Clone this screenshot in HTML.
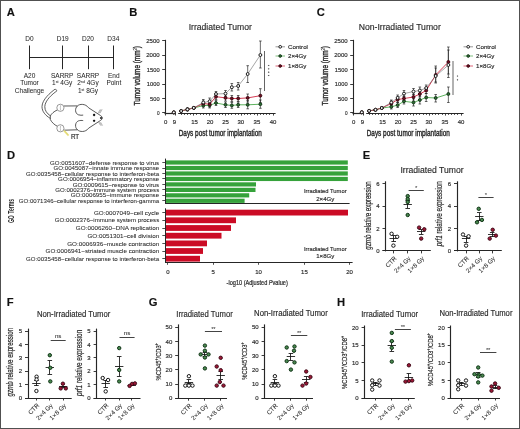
<!DOCTYPE html>
<html><head><meta charset="utf-8"><title>Figure</title>
<style>
html,body{margin:0;padding:0;background:#fff;}
body{width:520px;height:429px;overflow:hidden;}
svg{display:block;font-family:"Liberation Sans", sans-serif;}
text:not([stroke]){stroke:#2a2a2a;stroke-width:0.16px;}

</style></head>
<body>
<div style="width:520px;height:429px;will-change:transform">
<svg width="520" height="429" viewBox="0 0 520 429" font-family='"Liberation Sans", sans-serif' fill="#2a2a2a">
<rect x="0" y="0" width="520" height="429" fill="#fff"/>
<text x="6.70" y="15.70" font-size="11.2" font-weight="bold" fill="#111">A</text>
<text x="129.20" y="15.80" font-size="11.2" font-weight="bold" fill="#111">B</text>
<text x="316.70" y="15.90" font-size="11.2" font-weight="bold" fill="#111">C</text>
<text x="6.90" y="158.80" font-size="11.2" font-weight="bold" fill="#111">D</text>
<text x="362.70" y="158.80" font-size="11.2" font-weight="bold" fill="#111">E</text>
<text x="6.70" y="305.80" font-size="11.2" font-weight="bold" fill="#111">F</text>
<text x="148.80" y="305.60" font-size="11.2" font-weight="bold" fill="#111">G</text>
<text x="336.90" y="305.70" font-size="11.2" font-weight="bold" fill="#111">H</text>
<line x1="29.50" y1="57.50" x2="113.30" y2="57.50" stroke="#262626" stroke-width="1.0" />
<line x1="29.50" y1="45.50" x2="29.50" y2="69.20" stroke="#262626" stroke-width="1.0" />
<line x1="62.50" y1="45.50" x2="62.50" y2="69.20" stroke="#262626" stroke-width="1.0" />
<line x1="88.50" y1="45.50" x2="88.50" y2="69.20" stroke="#262626" stroke-width="1.0" />
<line x1="113.50" y1="45.50" x2="113.50" y2="69.20" stroke="#262626" stroke-width="1.0" />
<text x="29.50" y="40.90" font-size="6.5" stroke="#2a2a2a" stroke-width="0.04" text-anchor="middle">D0</text>
<text x="62.70" y="40.90" font-size="6.5" stroke="#2a2a2a" stroke-width="0.04" text-anchor="middle">D19</text>
<text x="88.00" y="40.90" font-size="6.5" stroke="#2a2a2a" stroke-width="0.04" text-anchor="middle">D20</text>
<text x="113.30" y="40.90" font-size="6.5" stroke="#2a2a2a" stroke-width="0.04" text-anchor="middle">D34</text>
<text x="29.50" y="77.50" font-size="6.5" stroke="#2a2a2a" stroke-width="0.04" text-anchor="middle">A20</text>
<text x="29.50" y="85.20" font-size="6.5" stroke="#2a2a2a" stroke-width="0.04" text-anchor="middle">Tumor</text>
<text x="29.50" y="92.80" font-size="6.5" stroke="#2a2a2a" stroke-width="0.04" text-anchor="middle">Challenge</text>
<text x="62.20" y="77.50" font-size="6.5" stroke="#2a2a2a" stroke-width="0.04" text-anchor="middle">SARRP</text>
<text x="62.20" y="85.20" font-size="6.5" stroke="#2a2a2a" stroke-width="0.04" text-anchor="middle">1<tspan font-size="3.6" dy="-2.2">st</tspan><tspan dy="2.2"> </tspan>4Gy</text>
<text x="88.00" y="77.50" font-size="6.5" stroke="#2a2a2a" stroke-width="0.04" text-anchor="middle">SARRP</text>
<text x="88.00" y="85.20" font-size="6.5" stroke="#2a2a2a" stroke-width="0.04" text-anchor="middle">2<tspan font-size="3.6" dy="-2.2">nd</tspan><tspan dy="2.2"> </tspan>4Gy</text>
<text x="88.00" y="92.80" font-size="6.5" stroke="#2a2a2a" stroke-width="0.04" text-anchor="middle">1<tspan font-size="3.6" dy="-2.2">st</tspan><tspan dy="2.2"> </tspan>8Gy</text>
<text x="113.80" y="77.50" font-size="6.5" stroke="#2a2a2a" stroke-width="0.04" text-anchor="middle">End</text>
<text x="113.80" y="85.20" font-size="6.5" stroke="#2a2a2a" stroke-width="0.04" text-anchor="middle">Point</text>
<path d="M55.0,89.2 C50.5,92.5 42.2,99.5 42.0,106.5 C41.9,111.5 45.5,115.5 50.3,118.4" fill="none" stroke="#2a2a2a" stroke-width="0.75" />
<path d="M56.9,90.9 C52.5,94.0 45.0,100.3 44.8,106.6 C44.7,110.5 47.0,113.5 50.3,115.8" fill="none" stroke="#2a2a2a" stroke-width="0.75" />
<path d="M55.0,89.2 Q56.6,89.3 56.9,90.9" fill="none" stroke="#303030" stroke-width="0.65" />
<path d="M57.2,110.0 C54.0,111.5 51.5,113.5 50.3,116.0 L50.3,119.5 C51.8,122.5 54.5,124.8 57.2,126.2" fill="none" stroke="#303030" stroke-width="0.8" />
<path d="M64.0,106.0 L77.5,105.9" fill="none" stroke="#303030" stroke-width="0.8" />
<path d="M64.0,130.2 L77.5,129.8" fill="none" stroke="#303030" stroke-width="0.8" />
<path d="M77.5,105.9 C79.5,103.8 85.5,103.4 88.6,107.8 L100.6,115.6 Q104.2,118.0 100.6,120.4 L88.6,128.2 C85.5,132.6 79.5,132.0 77.5,129.8" fill="none" stroke="#303030" stroke-width="0.8" />
<path d="M77.5,105.9 C74.6,108.2 75.0,113.6 78.4,114.8 C80.0,115.4 82.0,115.3 83.2,115.1" fill="none" stroke="#303030" stroke-width="0.8" />
<path d="M77.5,129.8 C74.6,127.6 75.0,122.2 78.4,120.9 C80.0,120.3 82.0,120.4 83.2,120.6" fill="none" stroke="#303030" stroke-width="0.8" />
<circle cx="60.40" cy="107.80" r="3.6" fill="#fff" stroke="#555" stroke-width="0.6"/>
<circle cx="60.40" cy="128.30" r="3.6" fill="#fff" stroke="#555" stroke-width="0.6"/>
<path d="M60.6,105.2 Q60.0,107.8 60.6,110.4" fill="none" stroke="#666" stroke-width="0.4" />
<path d="M60.6,125.7 Q60.0,128.3 60.6,130.9" fill="none" stroke="#666" stroke-width="0.4" />
<circle cx="94.10" cy="115.00" r="1.15" fill="#111" stroke="#111" stroke-width="0.1"/>
<circle cx="94.10" cy="120.80" r="1.15" fill="#111" stroke="#111" stroke-width="0.1"/>
<circle cx="101.00" cy="117.90" r="1.0" fill="#222" stroke="#222" stroke-width="0.1"/>
<line x1="98.00" y1="113.20" x2="100.20" y2="109.40" stroke="#555" stroke-width="0.4" />
<line x1="98.60" y1="122.20" x2="100.60" y2="125.60" stroke="#555" stroke-width="0.4" />
<line x1="99.00" y1="113.20" x2="101.20" y2="109.40" stroke="#555" stroke-width="0.4" />
<line x1="99.60" y1="122.20" x2="101.60" y2="125.60" stroke="#555" stroke-width="0.4" />
<line x1="100.00" y1="113.20" x2="102.20" y2="109.40" stroke="#555" stroke-width="0.4" />
<line x1="100.60" y1="122.20" x2="102.60" y2="125.60" stroke="#555" stroke-width="0.4" />
<path d="M64.0,130.6 L68.6,135.6" fill="none" stroke="#ebe38a" stroke-width="1.8" />
<path d="M64.2,130.6 L68.2,135.0" fill="none" stroke="#d9cf55" stroke-width="0.6" />
<text x="70.90" y="138.50" font-size="6.3">RT</text>
<text x="220.25" y="30.10" font-size="9.5" text-anchor="middle" textLength="63.10" lengthAdjust="spacingAndGlyphs">Irradiated Tumor</text>
<line x1="165.50" y1="39.80" x2="165.50" y2="113.30" stroke="#262626" stroke-width="1.1" />
<line x1="162.20" y1="112.50" x2="165.00" y2="112.50" stroke="#262626" stroke-width="0.9" />
<text x="159.60" y="114.85" font-size="6.0" text-anchor="end" textLength="2.60" lengthAdjust="spacingAndGlyphs">0</text>
<line x1="162.20" y1="98.50" x2="165.00" y2="98.50" stroke="#262626" stroke-width="0.9" />
<text x="159.60" y="100.60" font-size="6.0" text-anchor="end" textLength="9.50" lengthAdjust="spacingAndGlyphs">500</text>
<line x1="162.20" y1="84.50" x2="165.00" y2="84.50" stroke="#262626" stroke-width="0.9" />
<text x="159.60" y="86.10" font-size="6.0" text-anchor="end" textLength="12.80" lengthAdjust="spacingAndGlyphs">1000</text>
<line x1="162.20" y1="69.50" x2="165.00" y2="69.50" stroke="#262626" stroke-width="0.9" />
<text x="159.60" y="71.60" font-size="6.0" text-anchor="end" textLength="12.80" lengthAdjust="spacingAndGlyphs">1500</text>
<line x1="162.20" y1="55.50" x2="165.00" y2="55.50" stroke="#262626" stroke-width="0.9" />
<text x="159.60" y="57.35" font-size="6.0" text-anchor="end" textLength="13.40" lengthAdjust="spacingAndGlyphs">2000</text>
<line x1="162.20" y1="40.50" x2="165.00" y2="40.50" stroke="#262626" stroke-width="0.9" />
<text x="159.60" y="42.85" font-size="6.0" text-anchor="end" textLength="13.40" lengthAdjust="spacingAndGlyphs">2500</text>
<line x1="164.50" y1="113.50" x2="175.60" y2="113.50" stroke="#262626" stroke-width="1.2" />
<line x1="178.20" y1="113.50" x2="275.60" y2="113.50" stroke="#262626" stroke-width="1.1" />
<line x1="165.50" y1="113.30" x2="165.50" y2="115.50" stroke="#262626" stroke-width="0.9" />
<line x1="175.50" y1="113.30" x2="175.50" y2="115.50" stroke="#262626" stroke-width="0.9" />
<line x1="181.50" y1="113.30" x2="181.50" y2="114.90" stroke="#262626" stroke-width="0.85" />
<line x1="184.50" y1="113.30" x2="184.50" y2="114.90" stroke="#262626" stroke-width="0.85" />
<line x1="187.50" y1="113.30" x2="187.50" y2="114.90" stroke="#262626" stroke-width="0.85" />
<line x1="190.50" y1="113.30" x2="190.50" y2="114.90" stroke="#262626" stroke-width="0.85" />
<line x1="193.50" y1="113.30" x2="193.50" y2="115.60" stroke="#262626" stroke-width="0.85" />
<line x1="196.50" y1="113.30" x2="196.50" y2="114.90" stroke="#262626" stroke-width="0.85" />
<line x1="200.50" y1="113.30" x2="200.50" y2="114.90" stroke="#262626" stroke-width="0.85" />
<line x1="203.50" y1="113.30" x2="203.50" y2="114.90" stroke="#262626" stroke-width="0.85" />
<line x1="206.50" y1="113.30" x2="206.50" y2="114.90" stroke="#262626" stroke-width="0.85" />
<line x1="209.50" y1="113.30" x2="209.50" y2="115.60" stroke="#262626" stroke-width="0.85" />
<line x1="212.50" y1="113.30" x2="212.50" y2="114.90" stroke="#262626" stroke-width="0.85" />
<line x1="215.50" y1="113.30" x2="215.50" y2="114.90" stroke="#262626" stroke-width="0.85" />
<line x1="219.50" y1="113.30" x2="219.50" y2="114.90" stroke="#262626" stroke-width="0.85" />
<line x1="222.50" y1="113.30" x2="222.50" y2="114.90" stroke="#262626" stroke-width="0.85" />
<line x1="225.50" y1="113.30" x2="225.50" y2="115.60" stroke="#262626" stroke-width="0.85" />
<line x1="228.50" y1="113.30" x2="228.50" y2="114.90" stroke="#262626" stroke-width="0.85" />
<line x1="231.50" y1="113.30" x2="231.50" y2="114.90" stroke="#262626" stroke-width="0.85" />
<line x1="235.50" y1="113.30" x2="235.50" y2="114.90" stroke="#262626" stroke-width="0.85" />
<line x1="238.50" y1="113.30" x2="238.50" y2="114.90" stroke="#262626" stroke-width="0.85" />
<line x1="241.50" y1="113.30" x2="241.50" y2="115.60" stroke="#262626" stroke-width="0.85" />
<line x1="244.50" y1="113.30" x2="244.50" y2="114.90" stroke="#262626" stroke-width="0.85" />
<line x1="247.50" y1="113.30" x2="247.50" y2="114.90" stroke="#262626" stroke-width="0.85" />
<line x1="250.50" y1="113.30" x2="250.50" y2="114.90" stroke="#262626" stroke-width="0.85" />
<line x1="254.50" y1="113.30" x2="254.50" y2="114.90" stroke="#262626" stroke-width="0.85" />
<line x1="257.50" y1="113.30" x2="257.50" y2="115.60" stroke="#262626" stroke-width="0.85" />
<line x1="260.50" y1="113.30" x2="260.50" y2="114.90" stroke="#262626" stroke-width="0.85" />
<line x1="263.50" y1="113.30" x2="263.50" y2="114.90" stroke="#262626" stroke-width="0.85" />
<line x1="266.50" y1="113.30" x2="266.50" y2="114.90" stroke="#262626" stroke-width="0.85" />
<line x1="269.50" y1="113.30" x2="269.50" y2="114.90" stroke="#262626" stroke-width="0.85" />
<line x1="273.50" y1="113.30" x2="273.50" y2="115.60" stroke="#262626" stroke-width="0.85" />
<text x="165.75" y="124.30" font-size="6.0" text-anchor="middle">0</text>
<text x="174.50" y="124.30" font-size="6.0" text-anchor="middle">9</text>
<text x="194.50" y="124.30" font-size="6.0" text-anchor="middle">15</text>
<text x="210.00" y="124.30" font-size="6.0" text-anchor="middle">20</text>
<text x="225.50" y="124.30" font-size="6.0" text-anchor="middle">25</text>
<text x="240.80" y="124.30" font-size="6.0" text-anchor="middle">30</text>
<text x="256.90" y="124.30" font-size="6.0" text-anchor="middle">35</text>
<text x="273.00" y="124.30" font-size="6.0" text-anchor="middle">40</text>
<text x="178.70" y="136.4" font-size="8.3" textLength="83.2" lengthAdjust="spacingAndGlyphs" stroke="#2a2a2a" stroke-width="0.38">Days post tumor implantation</text>
<text x="140.40" y="105.5" font-size="8.4" textLength="59.3" lengthAdjust="spacingAndGlyphs" stroke="#2a2a2a" stroke-width="0.38" transform="rotate(-90 140.40 105.5)">Tumor volume (mm<tspan font-size="5.2" dy="-3.0" stroke-width="0.15">3</tspan><tspan dy="3.0">)</tspan></text>
<polyline points="181.12,111.00 187.46,109.40 193.80,107.90 203.31,105.60 209.65,105.30 215.99,103.00 225.50,104.80 231.84,105.40 238.18,104.80 247.69,104.80 260.37,104.20" fill="none" stroke="#4aa84b" stroke-width="0.9" stroke-linejoin="round"/>
<polyline points="181.12,111.00 187.46,109.40 193.80,107.90 203.31,103.60 209.65,104.20 215.99,96.70 225.50,97.90 231.84,98.50 238.18,98.50 247.69,97.90 260.37,95.70" fill="none" stroke="#cf2540" stroke-width="0.9" stroke-linejoin="round"/>
<polyline points="181.12,111.00 187.46,109.40 193.80,107.90 203.31,102.50 209.65,101.30 215.99,94.00 225.50,93.60 231.84,87.20 238.18,86.00 247.69,74.00 260.37,55.00" fill="none" stroke="#6a6a6a" stroke-width="0.6" stroke-linejoin="round"/>
<line x1="203.31" y1="103.00" x2="203.31" y2="108.00" stroke="#1a1a1a" stroke-width="0.65" />
<line x1="202.01" y1="103.00" x2="204.61" y2="103.00" stroke="#1a1a1a" stroke-width="0.65" />
<line x1="202.01" y1="108.00" x2="204.61" y2="108.00" stroke="#1a1a1a" stroke-width="0.65" />
<line x1="209.65" y1="103.00" x2="209.65" y2="108.00" stroke="#1a1a1a" stroke-width="0.65" />
<line x1="208.35" y1="103.00" x2="210.95" y2="103.00" stroke="#1a1a1a" stroke-width="0.65" />
<line x1="208.35" y1="108.00" x2="210.95" y2="108.00" stroke="#1a1a1a" stroke-width="0.65" />
<line x1="215.99" y1="100.50" x2="215.99" y2="105.50" stroke="#1a1a1a" stroke-width="0.65" />
<line x1="214.69" y1="100.50" x2="217.29" y2="100.50" stroke="#1a1a1a" stroke-width="0.65" />
<line x1="214.69" y1="105.50" x2="217.29" y2="105.50" stroke="#1a1a1a" stroke-width="0.65" />
<line x1="225.50" y1="102.00" x2="225.50" y2="107.50" stroke="#1a1a1a" stroke-width="0.65" />
<line x1="224.20" y1="102.00" x2="226.80" y2="102.00" stroke="#1a1a1a" stroke-width="0.65" />
<line x1="224.20" y1="107.50" x2="226.80" y2="107.50" stroke="#1a1a1a" stroke-width="0.65" />
<line x1="231.84" y1="102.50" x2="231.84" y2="108.30" stroke="#1a1a1a" stroke-width="0.65" />
<line x1="230.54" y1="102.50" x2="233.14" y2="102.50" stroke="#1a1a1a" stroke-width="0.65" />
<line x1="230.54" y1="108.30" x2="233.14" y2="108.30" stroke="#1a1a1a" stroke-width="0.65" />
<line x1="238.18" y1="102.00" x2="238.18" y2="107.50" stroke="#1a1a1a" stroke-width="0.65" />
<line x1="236.88" y1="102.00" x2="239.48" y2="102.00" stroke="#1a1a1a" stroke-width="0.65" />
<line x1="236.88" y1="107.50" x2="239.48" y2="107.50" stroke="#1a1a1a" stroke-width="0.65" />
<line x1="247.69" y1="100.50" x2="247.69" y2="108.80" stroke="#1a1a1a" stroke-width="0.65" />
<line x1="246.39" y1="100.50" x2="248.99" y2="100.50" stroke="#1a1a1a" stroke-width="0.65" />
<line x1="246.39" y1="108.80" x2="248.99" y2="108.80" stroke="#1a1a1a" stroke-width="0.65" />
<line x1="260.37" y1="100.00" x2="260.37" y2="108.30" stroke="#1a1a1a" stroke-width="0.65" />
<line x1="259.07" y1="100.00" x2="261.67" y2="100.00" stroke="#1a1a1a" stroke-width="0.65" />
<line x1="259.07" y1="108.30" x2="261.67" y2="108.30" stroke="#1a1a1a" stroke-width="0.65" />
<line x1="203.31" y1="101.00" x2="203.31" y2="106.00" stroke="#1a1a1a" stroke-width="0.65" />
<line x1="202.01" y1="101.00" x2="204.61" y2="101.00" stroke="#1a1a1a" stroke-width="0.65" />
<line x1="202.01" y1="106.00" x2="204.61" y2="106.00" stroke="#1a1a1a" stroke-width="0.65" />
<line x1="209.65" y1="101.50" x2="209.65" y2="107.00" stroke="#1a1a1a" stroke-width="0.65" />
<line x1="208.35" y1="101.50" x2="210.95" y2="101.50" stroke="#1a1a1a" stroke-width="0.65" />
<line x1="208.35" y1="107.00" x2="210.95" y2="107.00" stroke="#1a1a1a" stroke-width="0.65" />
<line x1="215.99" y1="94.00" x2="215.99" y2="99.50" stroke="#1a1a1a" stroke-width="0.65" />
<line x1="214.69" y1="94.00" x2="217.29" y2="94.00" stroke="#1a1a1a" stroke-width="0.65" />
<line x1="214.69" y1="99.50" x2="217.29" y2="99.50" stroke="#1a1a1a" stroke-width="0.65" />
<line x1="225.50" y1="95.00" x2="225.50" y2="101.00" stroke="#1a1a1a" stroke-width="0.65" />
<line x1="224.20" y1="95.00" x2="226.80" y2="95.00" stroke="#1a1a1a" stroke-width="0.65" />
<line x1="224.20" y1="101.00" x2="226.80" y2="101.00" stroke="#1a1a1a" stroke-width="0.65" />
<line x1="231.84" y1="95.50" x2="231.84" y2="101.50" stroke="#1a1a1a" stroke-width="0.65" />
<line x1="230.54" y1="95.50" x2="233.14" y2="95.50" stroke="#1a1a1a" stroke-width="0.65" />
<line x1="230.54" y1="101.50" x2="233.14" y2="101.50" stroke="#1a1a1a" stroke-width="0.65" />
<line x1="238.18" y1="95.50" x2="238.18" y2="101.50" stroke="#1a1a1a" stroke-width="0.65" />
<line x1="236.88" y1="95.50" x2="239.48" y2="95.50" stroke="#1a1a1a" stroke-width="0.65" />
<line x1="236.88" y1="101.50" x2="239.48" y2="101.50" stroke="#1a1a1a" stroke-width="0.65" />
<line x1="247.69" y1="94.00" x2="247.69" y2="102.00" stroke="#1a1a1a" stroke-width="0.65" />
<line x1="246.39" y1="94.00" x2="248.99" y2="94.00" stroke="#1a1a1a" stroke-width="0.65" />
<line x1="246.39" y1="102.00" x2="248.99" y2="102.00" stroke="#1a1a1a" stroke-width="0.65" />
<line x1="260.37" y1="88.70" x2="260.37" y2="102.50" stroke="#1a1a1a" stroke-width="0.65" />
<line x1="259.07" y1="88.70" x2="261.67" y2="88.70" stroke="#1a1a1a" stroke-width="0.65" />
<line x1="259.07" y1="102.50" x2="261.67" y2="102.50" stroke="#1a1a1a" stroke-width="0.65" />
<line x1="187.46" y1="108.00" x2="187.46" y2="111.00" stroke="#1a1a1a" stroke-width="0.65" />
<line x1="186.16" y1="108.00" x2="188.76" y2="108.00" stroke="#1a1a1a" stroke-width="0.65" />
<line x1="186.16" y1="111.00" x2="188.76" y2="111.00" stroke="#1a1a1a" stroke-width="0.65" />
<line x1="203.31" y1="99.50" x2="203.31" y2="105.50" stroke="#1a1a1a" stroke-width="0.65" />
<line x1="202.01" y1="99.50" x2="204.61" y2="99.50" stroke="#1a1a1a" stroke-width="0.65" />
<line x1="202.01" y1="105.50" x2="204.61" y2="105.50" stroke="#1a1a1a" stroke-width="0.65" />
<line x1="209.65" y1="98.00" x2="209.65" y2="104.50" stroke="#1a1a1a" stroke-width="0.65" />
<line x1="208.35" y1="98.00" x2="210.95" y2="98.00" stroke="#1a1a1a" stroke-width="0.65" />
<line x1="208.35" y1="104.50" x2="210.95" y2="104.50" stroke="#1a1a1a" stroke-width="0.65" />
<line x1="215.99" y1="91.50" x2="215.99" y2="96.50" stroke="#1a1a1a" stroke-width="0.65" />
<line x1="214.69" y1="91.50" x2="217.29" y2="91.50" stroke="#1a1a1a" stroke-width="0.65" />
<line x1="214.69" y1="96.50" x2="217.29" y2="96.50" stroke="#1a1a1a" stroke-width="0.65" />
<line x1="225.50" y1="90.50" x2="225.50" y2="96.50" stroke="#1a1a1a" stroke-width="0.65" />
<line x1="224.20" y1="90.50" x2="226.80" y2="90.50" stroke="#1a1a1a" stroke-width="0.65" />
<line x1="224.20" y1="96.50" x2="226.80" y2="96.50" stroke="#1a1a1a" stroke-width="0.65" />
<line x1="231.84" y1="83.50" x2="231.84" y2="91.00" stroke="#1a1a1a" stroke-width="0.65" />
<line x1="230.54" y1="83.50" x2="233.14" y2="83.50" stroke="#1a1a1a" stroke-width="0.65" />
<line x1="230.54" y1="91.00" x2="233.14" y2="91.00" stroke="#1a1a1a" stroke-width="0.65" />
<line x1="238.18" y1="82.50" x2="238.18" y2="90.00" stroke="#1a1a1a" stroke-width="0.65" />
<line x1="236.88" y1="82.50" x2="239.48" y2="82.50" stroke="#1a1a1a" stroke-width="0.65" />
<line x1="236.88" y1="90.00" x2="239.48" y2="90.00" stroke="#1a1a1a" stroke-width="0.65" />
<line x1="247.69" y1="65.70" x2="247.69" y2="82.50" stroke="#1a1a1a" stroke-width="0.65" />
<line x1="246.39" y1="65.70" x2="248.99" y2="65.70" stroke="#1a1a1a" stroke-width="0.65" />
<line x1="246.39" y1="82.50" x2="248.99" y2="82.50" stroke="#1a1a1a" stroke-width="0.65" />
<line x1="260.37" y1="41.00" x2="260.37" y2="68.00" stroke="#1a1a1a" stroke-width="0.65" />
<line x1="259.07" y1="41.00" x2="261.67" y2="41.00" stroke="#1a1a1a" stroke-width="0.65" />
<line x1="259.07" y1="68.00" x2="261.67" y2="68.00" stroke="#1a1a1a" stroke-width="0.65" />
<circle cx="173.80" cy="112.40" r="1.45" fill="#2f6f34" stroke="#15361a" stroke-width="0.95"/>
<circle cx="181.12" cy="111.00" r="1.45" fill="#2f6f34" stroke="#15361a" stroke-width="0.95"/>
<circle cx="187.46" cy="109.40" r="1.45" fill="#2f6f34" stroke="#15361a" stroke-width="0.95"/>
<circle cx="193.80" cy="107.90" r="1.45" fill="#2f6f34" stroke="#15361a" stroke-width="0.95"/>
<circle cx="203.31" cy="105.60" r="1.45" fill="#2f6f34" stroke="#15361a" stroke-width="0.95"/>
<circle cx="209.65" cy="105.30" r="1.45" fill="#2f6f34" stroke="#15361a" stroke-width="0.95"/>
<circle cx="215.99" cy="103.00" r="1.45" fill="#2f6f34" stroke="#15361a" stroke-width="0.95"/>
<circle cx="225.50" cy="104.80" r="1.45" fill="#2f6f34" stroke="#15361a" stroke-width="0.95"/>
<circle cx="231.84" cy="105.40" r="1.45" fill="#2f6f34" stroke="#15361a" stroke-width="0.95"/>
<circle cx="238.18" cy="104.80" r="1.45" fill="#2f6f34" stroke="#15361a" stroke-width="0.95"/>
<circle cx="247.69" cy="104.80" r="1.45" fill="#2f6f34" stroke="#15361a" stroke-width="0.95"/>
<circle cx="260.37" cy="104.20" r="1.45" fill="#2f6f34" stroke="#15361a" stroke-width="0.95"/>
<circle cx="173.80" cy="112.40" r="1.45" fill="#6e0f22" stroke="#3a0510" stroke-width="0.95"/>
<circle cx="181.12" cy="111.00" r="1.45" fill="#6e0f22" stroke="#3a0510" stroke-width="0.95"/>
<circle cx="187.46" cy="109.40" r="1.45" fill="#6e0f22" stroke="#3a0510" stroke-width="0.95"/>
<circle cx="193.80" cy="107.90" r="1.45" fill="#6e0f22" stroke="#3a0510" stroke-width="0.95"/>
<circle cx="203.31" cy="103.60" r="1.45" fill="#6e0f22" stroke="#3a0510" stroke-width="0.95"/>
<circle cx="209.65" cy="104.20" r="1.45" fill="#6e0f22" stroke="#3a0510" stroke-width="0.95"/>
<circle cx="215.99" cy="96.70" r="1.45" fill="#6e0f22" stroke="#3a0510" stroke-width="0.95"/>
<circle cx="225.50" cy="97.90" r="1.45" fill="#6e0f22" stroke="#3a0510" stroke-width="0.95"/>
<circle cx="231.84" cy="98.50" r="1.45" fill="#6e0f22" stroke="#3a0510" stroke-width="0.95"/>
<circle cx="238.18" cy="98.50" r="1.45" fill="#6e0f22" stroke="#3a0510" stroke-width="0.95"/>
<circle cx="247.69" cy="97.90" r="1.45" fill="#6e0f22" stroke="#3a0510" stroke-width="0.95"/>
<circle cx="260.37" cy="95.70" r="1.45" fill="#6e0f22" stroke="#3a0510" stroke-width="0.95"/>
<circle cx="173.80" cy="112.40" r="1.45" fill="#fff" stroke="#141414" stroke-width="0.95"/>
<circle cx="181.12" cy="111.00" r="1.45" fill="#fff" stroke="#141414" stroke-width="0.95"/>
<circle cx="187.46" cy="109.40" r="1.45" fill="#fff" stroke="#141414" stroke-width="0.95"/>
<circle cx="193.80" cy="107.90" r="1.45" fill="#fff" stroke="#141414" stroke-width="0.95"/>
<circle cx="203.31" cy="102.50" r="1.45" fill="#fff" stroke="#141414" stroke-width="0.95"/>
<circle cx="209.65" cy="101.30" r="1.45" fill="#fff" stroke="#141414" stroke-width="0.95"/>
<circle cx="215.99" cy="94.00" r="1.45" fill="#fff" stroke="#141414" stroke-width="0.95"/>
<circle cx="225.50" cy="93.60" r="1.45" fill="#fff" stroke="#141414" stroke-width="0.95"/>
<circle cx="231.84" cy="87.20" r="1.45" fill="#fff" stroke="#141414" stroke-width="0.95"/>
<circle cx="238.18" cy="86.00" r="1.45" fill="#fff" stroke="#141414" stroke-width="0.95"/>
<circle cx="247.69" cy="74.00" r="1.45" fill="#fff" stroke="#141414" stroke-width="0.95"/>
<circle cx="260.37" cy="55.00" r="1.45" fill="#fff" stroke="#141414" stroke-width="0.95"/>
<line x1="264.50" y1="51.00" x2="264.50" y2="91.00" stroke="#222" stroke-width="0.7" />
<circle cx="268.70" cy="65.50" r="0.6" fill="#333" stroke="#333" stroke-width="0.1"/>
<circle cx="268.70" cy="68.83" r="0.6" fill="#333" stroke="#333" stroke-width="0.1"/>
<circle cx="268.70" cy="72.17" r="0.6" fill="#333" stroke="#333" stroke-width="0.1"/>
<circle cx="268.70" cy="75.50" r="0.6" fill="#333" stroke="#333" stroke-width="0.1"/>
<line x1="275.50" y1="46.80" x2="285.00" y2="46.80" stroke="#6a6a6a" stroke-width="0.7" />
<circle cx="280.20" cy="46.80" r="1.35" fill="#fff" stroke="#141414" stroke-width="0.95"/>
<text x="288.00" y="49.00" font-size="6.2">Control</text>
<line x1="275.50" y1="56.00" x2="285.00" y2="56.00" stroke="#4aa84b" stroke-width="0.7" />
<circle cx="280.20" cy="56.00" r="1.35" fill="#2f6f34" stroke="#15361a" stroke-width="0.95"/>
<text x="288.00" y="58.20" font-size="6.2">2×4Gy</text>
<line x1="275.50" y1="66.00" x2="285.00" y2="66.00" stroke="#cf2540" stroke-width="0.7" />
<circle cx="280.20" cy="66.00" r="1.35" fill="#6e0f22" stroke="#3a0510" stroke-width="0.95"/>
<text x="288.00" y="68.20" font-size="6.2">1×8Gy</text>
<text x="399.75" y="30.10" font-size="9.5" text-anchor="middle" textLength="82.10" lengthAdjust="spacingAndGlyphs">Non-Irradiated Tumor</text>
<line x1="353.50" y1="39.80" x2="353.50" y2="113.30" stroke="#262626" stroke-width="1.1" />
<line x1="350.20" y1="112.50" x2="353.00" y2="112.50" stroke="#262626" stroke-width="0.9" />
<text x="347.60" y="114.85" font-size="6.0" text-anchor="end" textLength="2.60" lengthAdjust="spacingAndGlyphs">0</text>
<line x1="350.20" y1="98.50" x2="353.00" y2="98.50" stroke="#262626" stroke-width="0.9" />
<text x="347.60" y="100.60" font-size="6.0" text-anchor="end" textLength="9.50" lengthAdjust="spacingAndGlyphs">500</text>
<line x1="350.20" y1="84.50" x2="353.00" y2="84.50" stroke="#262626" stroke-width="0.9" />
<text x="347.60" y="86.10" font-size="6.0" text-anchor="end" textLength="12.80" lengthAdjust="spacingAndGlyphs">1000</text>
<line x1="350.20" y1="69.50" x2="353.00" y2="69.50" stroke="#262626" stroke-width="0.9" />
<text x="347.60" y="71.60" font-size="6.0" text-anchor="end" textLength="12.80" lengthAdjust="spacingAndGlyphs">1500</text>
<line x1="350.20" y1="55.50" x2="353.00" y2="55.50" stroke="#262626" stroke-width="0.9" />
<text x="347.60" y="57.35" font-size="6.0" text-anchor="end" textLength="13.40" lengthAdjust="spacingAndGlyphs">2000</text>
<line x1="350.20" y1="40.50" x2="353.00" y2="40.50" stroke="#262626" stroke-width="0.9" />
<text x="347.60" y="42.85" font-size="6.0" text-anchor="end" textLength="13.40" lengthAdjust="spacingAndGlyphs">2500</text>
<line x1="352.50" y1="113.50" x2="363.60" y2="113.50" stroke="#262626" stroke-width="1.2" />
<line x1="366.20" y1="113.50" x2="463.60" y2="113.50" stroke="#262626" stroke-width="1.1" />
<line x1="353.50" y1="113.30" x2="353.50" y2="115.50" stroke="#262626" stroke-width="0.9" />
<line x1="363.50" y1="113.30" x2="363.50" y2="115.50" stroke="#262626" stroke-width="0.9" />
<line x1="369.50" y1="113.30" x2="369.50" y2="114.90" stroke="#262626" stroke-width="0.85" />
<line x1="372.50" y1="113.30" x2="372.50" y2="114.90" stroke="#262626" stroke-width="0.85" />
<line x1="375.50" y1="113.30" x2="375.50" y2="114.90" stroke="#262626" stroke-width="0.85" />
<line x1="378.50" y1="113.30" x2="378.50" y2="114.90" stroke="#262626" stroke-width="0.85" />
<line x1="381.50" y1="113.30" x2="381.50" y2="115.60" stroke="#262626" stroke-width="0.85" />
<line x1="384.50" y1="113.30" x2="384.50" y2="114.90" stroke="#262626" stroke-width="0.85" />
<line x1="388.50" y1="113.30" x2="388.50" y2="114.90" stroke="#262626" stroke-width="0.85" />
<line x1="391.50" y1="113.30" x2="391.50" y2="114.90" stroke="#262626" stroke-width="0.85" />
<line x1="394.50" y1="113.30" x2="394.50" y2="114.90" stroke="#262626" stroke-width="0.85" />
<line x1="397.50" y1="113.30" x2="397.50" y2="115.60" stroke="#262626" stroke-width="0.85" />
<line x1="400.50" y1="113.30" x2="400.50" y2="114.90" stroke="#262626" stroke-width="0.85" />
<line x1="403.50" y1="113.30" x2="403.50" y2="114.90" stroke="#262626" stroke-width="0.85" />
<line x1="407.50" y1="113.30" x2="407.50" y2="114.90" stroke="#262626" stroke-width="0.85" />
<line x1="410.50" y1="113.30" x2="410.50" y2="114.90" stroke="#262626" stroke-width="0.85" />
<line x1="413.50" y1="113.30" x2="413.50" y2="115.60" stroke="#262626" stroke-width="0.85" />
<line x1="416.50" y1="113.30" x2="416.50" y2="114.90" stroke="#262626" stroke-width="0.85" />
<line x1="419.50" y1="113.30" x2="419.50" y2="114.90" stroke="#262626" stroke-width="0.85" />
<line x1="423.50" y1="113.30" x2="423.50" y2="114.90" stroke="#262626" stroke-width="0.85" />
<line x1="426.50" y1="113.30" x2="426.50" y2="114.90" stroke="#262626" stroke-width="0.85" />
<line x1="429.50" y1="113.30" x2="429.50" y2="115.60" stroke="#262626" stroke-width="0.85" />
<line x1="432.50" y1="113.30" x2="432.50" y2="114.90" stroke="#262626" stroke-width="0.85" />
<line x1="435.50" y1="113.30" x2="435.50" y2="114.90" stroke="#262626" stroke-width="0.85" />
<line x1="438.50" y1="113.30" x2="438.50" y2="114.90" stroke="#262626" stroke-width="0.85" />
<line x1="442.50" y1="113.30" x2="442.50" y2="114.90" stroke="#262626" stroke-width="0.85" />
<line x1="445.50" y1="113.30" x2="445.50" y2="115.60" stroke="#262626" stroke-width="0.85" />
<line x1="448.50" y1="113.30" x2="448.50" y2="114.90" stroke="#262626" stroke-width="0.85" />
<line x1="451.50" y1="113.30" x2="451.50" y2="114.90" stroke="#262626" stroke-width="0.85" />
<line x1="454.50" y1="113.30" x2="454.50" y2="114.90" stroke="#262626" stroke-width="0.85" />
<line x1="457.50" y1="113.30" x2="457.50" y2="114.90" stroke="#262626" stroke-width="0.85" />
<line x1="461.50" y1="113.30" x2="461.50" y2="115.60" stroke="#262626" stroke-width="0.85" />
<text x="353.75" y="124.30" font-size="6.0" text-anchor="middle">0</text>
<text x="362.50" y="124.30" font-size="6.0" text-anchor="middle">9</text>
<text x="382.50" y="124.30" font-size="6.0" text-anchor="middle">15</text>
<text x="398.00" y="124.30" font-size="6.0" text-anchor="middle">20</text>
<text x="413.50" y="124.30" font-size="6.0" text-anchor="middle">25</text>
<text x="428.80" y="124.30" font-size="6.0" text-anchor="middle">30</text>
<text x="444.90" y="124.30" font-size="6.0" text-anchor="middle">35</text>
<text x="461.00" y="124.30" font-size="6.0" text-anchor="middle">40</text>
<text x="366.70" y="136.4" font-size="8.3" textLength="83.2" lengthAdjust="spacingAndGlyphs" stroke="#2a2a2a" stroke-width="0.38">Days post tumor implantation</text>
<text x="328.40" y="105.5" font-size="8.4" textLength="59.3" lengthAdjust="spacingAndGlyphs" stroke="#2a2a2a" stroke-width="0.38" transform="rotate(-90 328.40 105.5)">Tumor volume (mm<tspan font-size="5.2" dy="-3.0" stroke-width="0.15">3</tspan><tspan dy="3.0">)</tspan></text>
<polyline points="369.12,110.90 375.46,109.80 381.80,108.00 391.31,106.80 397.65,105.10 403.99,101.30 413.50,102.50 419.84,100.00 426.18,97.50 435.69,98.00 448.37,94.00" fill="none" stroke="#4aa84b" stroke-width="0.9" stroke-linejoin="round"/>
<polyline points="369.12,110.90 375.46,109.80 381.80,108.00 391.31,103.50 397.65,99.60 403.99,98.50 413.50,97.00 419.84,94.00 426.18,90.50 435.69,75.00 448.37,62.00" fill="none" stroke="#cf2540" stroke-width="0.9" stroke-linejoin="round"/>
<polyline points="369.12,110.90 375.46,109.80 381.80,108.00 391.31,102.50 397.65,97.90 403.99,93.60 413.50,91.50 419.84,90.50 426.18,88.00 435.69,76.00 448.37,65.00" fill="none" stroke="#6a6a6a" stroke-width="0.6" stroke-linejoin="round"/>
<line x1="391.31" y1="104.50" x2="391.31" y2="109.00" stroke="#1a1a1a" stroke-width="0.65" />
<line x1="390.01" y1="104.50" x2="392.61" y2="104.50" stroke="#1a1a1a" stroke-width="0.65" />
<line x1="390.01" y1="109.00" x2="392.61" y2="109.00" stroke="#1a1a1a" stroke-width="0.65" />
<line x1="397.65" y1="102.50" x2="397.65" y2="107.50" stroke="#1a1a1a" stroke-width="0.65" />
<line x1="396.35" y1="102.50" x2="398.95" y2="102.50" stroke="#1a1a1a" stroke-width="0.65" />
<line x1="396.35" y1="107.50" x2="398.95" y2="107.50" stroke="#1a1a1a" stroke-width="0.65" />
<line x1="403.99" y1="98.50" x2="403.99" y2="104.00" stroke="#1a1a1a" stroke-width="0.65" />
<line x1="402.69" y1="98.50" x2="405.29" y2="98.50" stroke="#1a1a1a" stroke-width="0.65" />
<line x1="402.69" y1="104.00" x2="405.29" y2="104.00" stroke="#1a1a1a" stroke-width="0.65" />
<line x1="413.50" y1="98.50" x2="413.50" y2="106.00" stroke="#1a1a1a" stroke-width="0.65" />
<line x1="412.20" y1="98.50" x2="414.80" y2="98.50" stroke="#1a1a1a" stroke-width="0.65" />
<line x1="412.20" y1="106.00" x2="414.80" y2="106.00" stroke="#1a1a1a" stroke-width="0.65" />
<line x1="419.84" y1="96.00" x2="419.84" y2="104.00" stroke="#1a1a1a" stroke-width="0.65" />
<line x1="418.54" y1="96.00" x2="421.14" y2="96.00" stroke="#1a1a1a" stroke-width="0.65" />
<line x1="418.54" y1="104.00" x2="421.14" y2="104.00" stroke="#1a1a1a" stroke-width="0.65" />
<line x1="426.18" y1="93.50" x2="426.18" y2="101.50" stroke="#1a1a1a" stroke-width="0.65" />
<line x1="424.88" y1="93.50" x2="427.48" y2="93.50" stroke="#1a1a1a" stroke-width="0.65" />
<line x1="424.88" y1="101.50" x2="427.48" y2="101.50" stroke="#1a1a1a" stroke-width="0.65" />
<line x1="435.69" y1="94.50" x2="435.69" y2="102.00" stroke="#1a1a1a" stroke-width="0.65" />
<line x1="434.39" y1="94.50" x2="436.99" y2="94.50" stroke="#1a1a1a" stroke-width="0.65" />
<line x1="434.39" y1="102.00" x2="436.99" y2="102.00" stroke="#1a1a1a" stroke-width="0.65" />
<line x1="448.37" y1="87.00" x2="448.37" y2="102.50" stroke="#1a1a1a" stroke-width="0.65" />
<line x1="447.07" y1="87.00" x2="449.67" y2="87.00" stroke="#1a1a1a" stroke-width="0.65" />
<line x1="447.07" y1="102.50" x2="449.67" y2="102.50" stroke="#1a1a1a" stroke-width="0.65" />
<line x1="391.31" y1="101.00" x2="391.31" y2="106.00" stroke="#1a1a1a" stroke-width="0.65" />
<line x1="390.01" y1="101.00" x2="392.61" y2="101.00" stroke="#1a1a1a" stroke-width="0.65" />
<line x1="390.01" y1="106.00" x2="392.61" y2="106.00" stroke="#1a1a1a" stroke-width="0.65" />
<line x1="397.65" y1="97.00" x2="397.65" y2="102.50" stroke="#1a1a1a" stroke-width="0.65" />
<line x1="396.35" y1="97.00" x2="398.95" y2="97.00" stroke="#1a1a1a" stroke-width="0.65" />
<line x1="396.35" y1="102.50" x2="398.95" y2="102.50" stroke="#1a1a1a" stroke-width="0.65" />
<line x1="403.99" y1="96.00" x2="403.99" y2="101.00" stroke="#1a1a1a" stroke-width="0.65" />
<line x1="402.69" y1="96.00" x2="405.29" y2="96.00" stroke="#1a1a1a" stroke-width="0.65" />
<line x1="402.69" y1="101.00" x2="405.29" y2="101.00" stroke="#1a1a1a" stroke-width="0.65" />
<line x1="413.50" y1="94.00" x2="413.50" y2="100.00" stroke="#1a1a1a" stroke-width="0.65" />
<line x1="412.20" y1="94.00" x2="414.80" y2="94.00" stroke="#1a1a1a" stroke-width="0.65" />
<line x1="412.20" y1="100.00" x2="414.80" y2="100.00" stroke="#1a1a1a" stroke-width="0.65" />
<line x1="419.84" y1="91.00" x2="419.84" y2="97.00" stroke="#1a1a1a" stroke-width="0.65" />
<line x1="418.54" y1="91.00" x2="421.14" y2="91.00" stroke="#1a1a1a" stroke-width="0.65" />
<line x1="418.54" y1="97.00" x2="421.14" y2="97.00" stroke="#1a1a1a" stroke-width="0.65" />
<line x1="426.18" y1="87.50" x2="426.18" y2="93.50" stroke="#1a1a1a" stroke-width="0.65" />
<line x1="424.88" y1="87.50" x2="427.48" y2="87.50" stroke="#1a1a1a" stroke-width="0.65" />
<line x1="424.88" y1="93.50" x2="427.48" y2="93.50" stroke="#1a1a1a" stroke-width="0.65" />
<line x1="435.69" y1="68.00" x2="435.69" y2="82.00" stroke="#1a1a1a" stroke-width="0.65" />
<line x1="434.39" y1="68.00" x2="436.99" y2="68.00" stroke="#1a1a1a" stroke-width="0.65" />
<line x1="434.39" y1="82.00" x2="436.99" y2="82.00" stroke="#1a1a1a" stroke-width="0.65" />
<line x1="448.37" y1="50.00" x2="448.37" y2="74.00" stroke="#1a1a1a" stroke-width="0.65" />
<line x1="447.07" y1="50.00" x2="449.67" y2="50.00" stroke="#1a1a1a" stroke-width="0.65" />
<line x1="447.07" y1="74.00" x2="449.67" y2="74.00" stroke="#1a1a1a" stroke-width="0.65" />
<line x1="391.31" y1="100.00" x2="391.31" y2="105.00" stroke="#1a1a1a" stroke-width="0.65" />
<line x1="390.01" y1="100.00" x2="392.61" y2="100.00" stroke="#1a1a1a" stroke-width="0.65" />
<line x1="390.01" y1="105.00" x2="392.61" y2="105.00" stroke="#1a1a1a" stroke-width="0.65" />
<line x1="397.65" y1="95.00" x2="397.65" y2="101.00" stroke="#1a1a1a" stroke-width="0.65" />
<line x1="396.35" y1="95.00" x2="398.95" y2="95.00" stroke="#1a1a1a" stroke-width="0.65" />
<line x1="396.35" y1="101.00" x2="398.95" y2="101.00" stroke="#1a1a1a" stroke-width="0.65" />
<line x1="403.99" y1="90.50" x2="403.99" y2="96.50" stroke="#1a1a1a" stroke-width="0.65" />
<line x1="402.69" y1="90.50" x2="405.29" y2="90.50" stroke="#1a1a1a" stroke-width="0.65" />
<line x1="402.69" y1="96.50" x2="405.29" y2="96.50" stroke="#1a1a1a" stroke-width="0.65" />
<line x1="413.50" y1="88.50" x2="413.50" y2="94.50" stroke="#1a1a1a" stroke-width="0.65" />
<line x1="412.20" y1="88.50" x2="414.80" y2="88.50" stroke="#1a1a1a" stroke-width="0.65" />
<line x1="412.20" y1="94.50" x2="414.80" y2="94.50" stroke="#1a1a1a" stroke-width="0.65" />
<line x1="419.84" y1="87.00" x2="419.84" y2="94.00" stroke="#1a1a1a" stroke-width="0.65" />
<line x1="418.54" y1="87.00" x2="421.14" y2="87.00" stroke="#1a1a1a" stroke-width="0.65" />
<line x1="418.54" y1="94.00" x2="421.14" y2="94.00" stroke="#1a1a1a" stroke-width="0.65" />
<line x1="426.18" y1="85.00" x2="426.18" y2="91.00" stroke="#1a1a1a" stroke-width="0.65" />
<line x1="424.88" y1="85.00" x2="427.48" y2="85.00" stroke="#1a1a1a" stroke-width="0.65" />
<line x1="424.88" y1="91.00" x2="427.48" y2="91.00" stroke="#1a1a1a" stroke-width="0.65" />
<line x1="435.69" y1="66.00" x2="435.69" y2="83.00" stroke="#1a1a1a" stroke-width="0.65" />
<line x1="434.39" y1="66.00" x2="436.99" y2="66.00" stroke="#1a1a1a" stroke-width="0.65" />
<line x1="434.39" y1="83.00" x2="436.99" y2="83.00" stroke="#1a1a1a" stroke-width="0.65" />
<line x1="448.37" y1="47.00" x2="448.37" y2="77.50" stroke="#1a1a1a" stroke-width="0.65" />
<line x1="447.07" y1="47.00" x2="449.67" y2="47.00" stroke="#1a1a1a" stroke-width="0.65" />
<line x1="447.07" y1="77.50" x2="449.67" y2="77.50" stroke="#1a1a1a" stroke-width="0.65" />
<circle cx="361.80" cy="112.30" r="1.45" fill="#2f6f34" stroke="#15361a" stroke-width="0.95"/>
<circle cx="369.12" cy="110.90" r="1.45" fill="#2f6f34" stroke="#15361a" stroke-width="0.95"/>
<circle cx="375.46" cy="109.80" r="1.45" fill="#2f6f34" stroke="#15361a" stroke-width="0.95"/>
<circle cx="381.80" cy="108.00" r="1.45" fill="#2f6f34" stroke="#15361a" stroke-width="0.95"/>
<circle cx="391.31" cy="106.80" r="1.45" fill="#2f6f34" stroke="#15361a" stroke-width="0.95"/>
<circle cx="397.65" cy="105.10" r="1.45" fill="#2f6f34" stroke="#15361a" stroke-width="0.95"/>
<circle cx="403.99" cy="101.30" r="1.45" fill="#2f6f34" stroke="#15361a" stroke-width="0.95"/>
<circle cx="413.50" cy="102.50" r="1.45" fill="#2f6f34" stroke="#15361a" stroke-width="0.95"/>
<circle cx="419.84" cy="100.00" r="1.45" fill="#2f6f34" stroke="#15361a" stroke-width="0.95"/>
<circle cx="426.18" cy="97.50" r="1.45" fill="#2f6f34" stroke="#15361a" stroke-width="0.95"/>
<circle cx="435.69" cy="98.00" r="1.45" fill="#2f6f34" stroke="#15361a" stroke-width="0.95"/>
<circle cx="448.37" cy="94.00" r="1.45" fill="#2f6f34" stroke="#15361a" stroke-width="0.95"/>
<circle cx="361.80" cy="112.30" r="1.45" fill="#6e0f22" stroke="#3a0510" stroke-width="0.95"/>
<circle cx="369.12" cy="110.90" r="1.45" fill="#6e0f22" stroke="#3a0510" stroke-width="0.95"/>
<circle cx="375.46" cy="109.80" r="1.45" fill="#6e0f22" stroke="#3a0510" stroke-width="0.95"/>
<circle cx="381.80" cy="108.00" r="1.45" fill="#6e0f22" stroke="#3a0510" stroke-width="0.95"/>
<circle cx="391.31" cy="103.50" r="1.45" fill="#6e0f22" stroke="#3a0510" stroke-width="0.95"/>
<circle cx="397.65" cy="99.60" r="1.45" fill="#6e0f22" stroke="#3a0510" stroke-width="0.95"/>
<circle cx="403.99" cy="98.50" r="1.45" fill="#6e0f22" stroke="#3a0510" stroke-width="0.95"/>
<circle cx="413.50" cy="97.00" r="1.45" fill="#6e0f22" stroke="#3a0510" stroke-width="0.95"/>
<circle cx="419.84" cy="94.00" r="1.45" fill="#6e0f22" stroke="#3a0510" stroke-width="0.95"/>
<circle cx="426.18" cy="90.50" r="1.45" fill="#6e0f22" stroke="#3a0510" stroke-width="0.95"/>
<circle cx="435.69" cy="75.00" r="1.45" fill="#6e0f22" stroke="#3a0510" stroke-width="0.95"/>
<circle cx="448.37" cy="62.00" r="1.45" fill="#6e0f22" stroke="#3a0510" stroke-width="0.95"/>
<circle cx="361.80" cy="112.30" r="1.45" fill="#fff" stroke="#141414" stroke-width="0.95"/>
<circle cx="369.12" cy="110.90" r="1.45" fill="#fff" stroke="#141414" stroke-width="0.95"/>
<circle cx="375.46" cy="109.80" r="1.45" fill="#fff" stroke="#141414" stroke-width="0.95"/>
<circle cx="381.80" cy="108.00" r="1.45" fill="#fff" stroke="#141414" stroke-width="0.95"/>
<circle cx="391.31" cy="102.50" r="1.45" fill="#fff" stroke="#141414" stroke-width="0.95"/>
<circle cx="397.65" cy="97.90" r="1.45" fill="#fff" stroke="#141414" stroke-width="0.95"/>
<circle cx="403.99" cy="93.60" r="1.45" fill="#fff" stroke="#141414" stroke-width="0.95"/>
<circle cx="413.50" cy="91.50" r="1.45" fill="#fff" stroke="#141414" stroke-width="0.95"/>
<circle cx="419.84" cy="90.50" r="1.45" fill="#fff" stroke="#141414" stroke-width="0.95"/>
<circle cx="426.18" cy="88.00" r="1.45" fill="#fff" stroke="#141414" stroke-width="0.95"/>
<circle cx="435.69" cy="76.00" r="1.45" fill="#fff" stroke="#141414" stroke-width="0.95"/>
<circle cx="448.37" cy="65.00" r="1.45" fill="#fff" stroke="#141414" stroke-width="0.95"/>
<line x1="453.00" y1="61.00" x2="453.00" y2="95.00" stroke="#222" stroke-width="0.7" />
<circle cx="457.50" cy="76.00" r="0.6" fill="#333" stroke="#333" stroke-width="0.1"/>
<circle cx="457.50" cy="79.80" r="0.6" fill="#333" stroke="#333" stroke-width="0.1"/>
<line x1="463.50" y1="46.80" x2="473.00" y2="46.80" stroke="#6a6a6a" stroke-width="0.7" />
<circle cx="468.20" cy="46.80" r="1.35" fill="#fff" stroke="#141414" stroke-width="0.95"/>
<text x="476.00" y="49.00" font-size="6.2">Control</text>
<line x1="463.50" y1="56.00" x2="473.00" y2="56.00" stroke="#4aa84b" stroke-width="0.7" />
<circle cx="468.20" cy="56.00" r="1.35" fill="#2f6f34" stroke="#15361a" stroke-width="0.95"/>
<text x="476.00" y="58.20" font-size="6.2">2×4Gy</text>
<line x1="463.50" y1="66.00" x2="473.00" y2="66.00" stroke="#cf2540" stroke-width="0.7" />
<circle cx="468.20" cy="66.00" r="1.35" fill="#6e0f22" stroke="#3a0510" stroke-width="0.95"/>
<text x="476.00" y="68.20" font-size="6.2">1×8Gy</text>
<rect x="166.00" y="160.40" width="181.80" height="4.20" fill="#36a23b"/>
<line x1="162.30" y1="162.50" x2="165.50" y2="162.50" stroke="#262626" stroke-width="0.8" />
<text x="159.20" y="164.60" font-size="6.0" stroke="#2a2a2a" stroke-width="0.06" text-anchor="end" textLength="109.10" lengthAdjust="spacingAndGlyphs">GO:0051607~defense response to virus</text>
<rect x="166.00" y="165.90" width="181.80" height="4.20" fill="#36a23b"/>
<line x1="162.30" y1="168.50" x2="165.50" y2="168.50" stroke="#262626" stroke-width="0.8" />
<text x="159.20" y="170.10" font-size="6.0" stroke="#2a2a2a" stroke-width="0.06" text-anchor="end" textLength="105.70" lengthAdjust="spacingAndGlyphs">GO:0045087~innate immune response</text>
<rect x="166.00" y="171.40" width="181.80" height="4.20" fill="#36a23b"/>
<line x1="162.30" y1="173.50" x2="165.50" y2="173.50" stroke="#262626" stroke-width="0.8" />
<text x="159.20" y="175.60" font-size="6.0" stroke="#2a2a2a" stroke-width="0.06" text-anchor="end" textLength="133.10" lengthAdjust="spacingAndGlyphs">GO:0035458~cellular response to interferon-beta</text>
<rect x="166.00" y="176.85" width="181.80" height="4.20" fill="#36a23b"/>
<line x1="162.30" y1="178.50" x2="165.50" y2="178.50" stroke="#262626" stroke-width="0.8" />
<text x="159.20" y="181.05" font-size="6.0" stroke="#2a2a2a" stroke-width="0.06" text-anchor="end" textLength="101.10" lengthAdjust="spacingAndGlyphs">GO:0006954~inflammatory response</text>
<rect x="166.00" y="182.30" width="90.00" height="4.20" fill="#36a23b"/>
<line x1="162.30" y1="184.50" x2="165.50" y2="184.50" stroke="#262626" stroke-width="0.8" />
<text x="159.20" y="186.50" font-size="6.0" stroke="#2a2a2a" stroke-width="0.06" text-anchor="end" textLength="86.50" lengthAdjust="spacingAndGlyphs">GO:0009615~response to virus</text>
<rect x="166.00" y="187.80" width="89.50" height="4.20" fill="#36a23b"/>
<line x1="162.30" y1="189.50" x2="165.50" y2="189.50" stroke="#262626" stroke-width="0.8" />
<text x="159.20" y="192.00" font-size="6.0" stroke="#2a2a2a" stroke-width="0.06" text-anchor="end" textLength="103.90" lengthAdjust="spacingAndGlyphs">GO:0002376~immune system process</text>
<rect x="166.00" y="193.25" width="83.20" height="4.20" fill="#36a23b"/>
<line x1="162.30" y1="195.50" x2="165.50" y2="195.50" stroke="#262626" stroke-width="0.8" />
<text x="159.20" y="197.45" font-size="6.0" stroke="#2a2a2a" stroke-width="0.06" text-anchor="end" textLength="88.50" lengthAdjust="spacingAndGlyphs">GO:0006955~immune response</text>
<rect x="166.00" y="198.70" width="78.60" height="4.20" fill="#36a23b"/>
<line x1="162.30" y1="200.50" x2="165.50" y2="200.50" stroke="#262626" stroke-width="0.8" />
<text x="159.20" y="202.90" font-size="6.0" stroke="#2a2a2a" stroke-width="0.06" text-anchor="end" textLength="140.40" lengthAdjust="spacingAndGlyphs">GO:0071346~cellular response to interferon-gamma</text>
<line x1="165.50" y1="158.60" x2="165.50" y2="204.00" stroke="#262626" stroke-width="1.0" />
<line x1="165.50" y1="203.50" x2="349.60" y2="203.50" stroke="#262626" stroke-width="1.0" />
<rect x="166.00" y="209.70" width="182.00" height="5.80" fill="#cb0b25"/>
<line x1="162.30" y1="212.50" x2="165.50" y2="212.50" stroke="#262626" stroke-width="0.8" />
<text x="159.20" y="214.70" font-size="6.0" stroke="#2a2a2a" stroke-width="0.06" text-anchor="end" textLength="65.30" lengthAdjust="spacingAndGlyphs">GO:0007049~cell cycle</text>
<rect x="166.00" y="217.40" width="70.00" height="5.80" fill="#cb0b25"/>
<line x1="162.30" y1="220.50" x2="165.50" y2="220.50" stroke="#262626" stroke-width="0.8" />
<text x="159.20" y="222.40" font-size="6.0" stroke="#2a2a2a" stroke-width="0.06" text-anchor="end" textLength="104.40" lengthAdjust="spacingAndGlyphs">GO:0002376~immune system process</text>
<rect x="166.00" y="225.10" width="65.00" height="5.80" fill="#cb0b25"/>
<line x1="162.30" y1="228.50" x2="165.50" y2="228.50" stroke="#262626" stroke-width="0.8" />
<text x="159.20" y="230.10" font-size="6.0" stroke="#2a2a2a" stroke-width="0.06" text-anchor="end" textLength="83.40" lengthAdjust="spacingAndGlyphs">GO:0006260~DNA replication</text>
<rect x="166.00" y="232.80" width="55.50" height="5.80" fill="#cb0b25"/>
<line x1="162.30" y1="235.50" x2="165.50" y2="235.50" stroke="#262626" stroke-width="0.8" />
<text x="159.20" y="237.80" font-size="6.0" stroke="#2a2a2a" stroke-width="0.06" text-anchor="end" textLength="71.80" lengthAdjust="spacingAndGlyphs">GO:0051301~cell division</text>
<rect x="166.00" y="240.50" width="41.00" height="5.80" fill="#cb0b25"/>
<line x1="162.30" y1="243.50" x2="165.50" y2="243.50" stroke="#262626" stroke-width="0.8" />
<text x="159.20" y="245.50" font-size="6.0" stroke="#2a2a2a" stroke-width="0.06" text-anchor="end" textLength="92.00" lengthAdjust="spacingAndGlyphs">GO:0006936~muscle contraction</text>
<rect x="166.00" y="248.10" width="37.00" height="5.80" fill="#cb0b25"/>
<line x1="162.30" y1="251.50" x2="165.50" y2="251.50" stroke="#262626" stroke-width="0.8" />
<text x="159.20" y="253.10" font-size="6.0" stroke="#2a2a2a" stroke-width="0.06" text-anchor="end" textLength="113.60" lengthAdjust="spacingAndGlyphs">GO:0006941~striated muscle contraction</text>
<rect x="166.00" y="255.80" width="34.00" height="5.80" fill="#cb0b25"/>
<line x1="162.30" y1="258.50" x2="165.50" y2="258.50" stroke="#262626" stroke-width="0.8" />
<text x="159.20" y="260.80" font-size="6.0" stroke="#2a2a2a" stroke-width="0.06" text-anchor="end" textLength="133.10" lengthAdjust="spacingAndGlyphs">GO:0035458~cellular response to interferon-beta</text>
<line x1="165.50" y1="208.30" x2="165.50" y2="262.80" stroke="#262626" stroke-width="1.0" />
<line x1="165.00" y1="262.50" x2="352.60" y2="262.50" stroke="#262626" stroke-width="1.0" />
<line x1="167.50" y1="262.30" x2="167.50" y2="264.80" stroke="#262626" stroke-width="0.8" />
<line x1="213.50" y1="262.30" x2="213.50" y2="264.80" stroke="#262626" stroke-width="0.8" />
<line x1="258.50" y1="262.30" x2="258.50" y2="264.80" stroke="#262626" stroke-width="0.8" />
<line x1="304.50" y1="262.30" x2="304.50" y2="264.80" stroke="#262626" stroke-width="0.8" />
<line x1="349.50" y1="262.30" x2="349.50" y2="264.80" stroke="#262626" stroke-width="0.8" />
<text x="167.90" y="274.20" font-size="6.0" text-anchor="middle">0</text>
<text x="213.10" y="274.20" font-size="6.0" text-anchor="middle">5</text>
<text x="258.60" y="274.20" font-size="6.0" text-anchor="middle">10</text>
<text x="304.40" y="274.20" font-size="6.0" text-anchor="middle">15</text>
<text x="349.60" y="274.20" font-size="6.0" text-anchor="middle">20</text>
<text x="226.6" y="285.0" font-size="7.5" textLength="61.2" lengthAdjust="spacingAndGlyphs" stroke="#2a2a2a" stroke-width="0.22">-log10 (Adjusted <tspan font-style="italic">P</tspan>value)</text>
<text x="325.30" y="192.70" font-size="6.1" text-anchor="middle" textLength="42.60" lengthAdjust="spacingAndGlyphs">Irradiated Tumor</text>
<text x="325.30" y="200.60" font-size="6.1" text-anchor="middle">2×4Gy</text>
<text x="325.30" y="250.80" font-size="6.1" text-anchor="middle" textLength="42.60" lengthAdjust="spacingAndGlyphs">Irradiated Tumor</text>
<text x="325.30" y="257.80" font-size="6.1" text-anchor="middle">1×8Gy</text>
<text x="14.10" y="223.10" font-size="8.8" stroke="none" stroke-width="0" font-weight="bold" textLength="24.20" lengthAdjust="spacingAndGlyphs" transform="rotate(-90 14.10 223.10)">GO Terms</text>
<text x="432.00" y="172.70" font-size="9.5" text-anchor="middle" textLength="63.20" lengthAdjust="spacingAndGlyphs">Irradiated Tumor</text>
<line x1="385.50" y1="181.30" x2="385.50" y2="251.40" stroke="#262626" stroke-width="1.15" />
<line x1="382.50" y1="250.50" x2="430.80" y2="250.50" stroke="#262626" stroke-width="1.15" />
<line x1="382.50" y1="250.50" x2="385.50" y2="250.50" stroke="#262626" stroke-width="0.9" />
<text x="379.60" y="253.00" font-size="6.0" text-anchor="end">0</text>
<line x1="382.50" y1="228.50" x2="385.50" y2="228.50" stroke="#262626" stroke-width="0.9" />
<text x="379.60" y="230.60" font-size="6.0" text-anchor="end">2</text>
<line x1="382.50" y1="206.50" x2="385.50" y2="206.50" stroke="#262626" stroke-width="0.9" />
<text x="379.60" y="208.20" font-size="6.0" text-anchor="end">4</text>
<line x1="382.50" y1="183.50" x2="385.50" y2="183.50" stroke="#262626" stroke-width="0.9" />
<text x="379.60" y="185.80" font-size="6.0" text-anchor="end">6</text>
<line x1="393.50" y1="250.90" x2="393.50" y2="253.40" stroke="#262626" stroke-width="0.9" />
<line x1="407.50" y1="250.90" x2="407.50" y2="253.40" stroke="#262626" stroke-width="0.9" />
<line x1="421.50" y1="250.90" x2="421.50" y2="253.40" stroke="#262626" stroke-width="0.9" />
<text x="397.10" y="258.80" font-size="6.3" stroke="#2a2a2a" stroke-width="0.05" text-anchor="end" transform="rotate(-45 397.10 258.80)">CTR</text>
<text x="411.10" y="258.80" font-size="6.3" stroke="#2a2a2a" stroke-width="0.05" text-anchor="end" transform="rotate(-45 411.10 258.80)">2×4 Gy</text>
<text x="424.60" y="258.80" font-size="6.3" stroke="#2a2a2a" stroke-width="0.05" text-anchor="end" transform="rotate(-45 424.60 258.80)">1×8 Gy</text>
<text x="370.70" y="249.70" font-size="8.6" textLength="68.50" lengthAdjust="spacingAndGlyphs" stroke="#2a2a2a" stroke-width="0.2" transform="rotate(-90 370.70 249.70)"><tspan font-style="italic">gzmb</tspan> relative expression</text>
<line x1="389.50" y1="238.50" x2="397.90" y2="238.50" stroke="#111" stroke-width="0.85" />
<line x1="393.50" y1="235.60" x2="393.50" y2="241.50" stroke="#111" stroke-width="0.85" />
<line x1="391.40" y1="235.50" x2="396.00" y2="235.50" stroke="#111" stroke-width="0.85" />
<line x1="391.40" y1="241.50" x2="396.00" y2="241.50" stroke="#111" stroke-width="0.85" />
<line x1="403.50" y1="204.50" x2="411.90" y2="204.50" stroke="#111" stroke-width="0.85" />
<line x1="407.50" y1="200.60" x2="407.50" y2="208.00" stroke="#111" stroke-width="0.85" />
<line x1="405.40" y1="200.50" x2="410.00" y2="200.50" stroke="#111" stroke-width="0.85" />
<line x1="405.40" y1="208.50" x2="410.00" y2="208.50" stroke="#111" stroke-width="0.85" />
<line x1="417.00" y1="231.50" x2="425.40" y2="231.50" stroke="#111" stroke-width="0.85" />
<line x1="421.50" y1="229.80" x2="421.50" y2="234.20" stroke="#111" stroke-width="0.85" />
<line x1="418.90" y1="229.50" x2="423.50" y2="229.50" stroke="#111" stroke-width="0.85" />
<line x1="418.90" y1="234.50" x2="423.50" y2="234.50" stroke="#111" stroke-width="0.85" />
<circle cx="391.60" cy="233.80" r="1.7" fill="#fff" stroke="#161616" stroke-width="1.0"/>
<circle cx="397.20" cy="236.80" r="1.7" fill="#fff" stroke="#161616" stroke-width="1.0"/>
<circle cx="393.40" cy="245.60" r="1.7" fill="#fff" stroke="#161616" stroke-width="1.0"/>
<circle cx="407.70" cy="196.10" r="1.7" fill="#4a8a50" stroke="#0f3315" stroke-width="1.0"/>
<circle cx="407.70" cy="199.00" r="1.7" fill="#4a8a50" stroke="#0f3315" stroke-width="1.0"/>
<circle cx="407.70" cy="202.00" r="1.7" fill="#4a8a50" stroke="#0f3315" stroke-width="1.0"/>
<circle cx="407.70" cy="215.00" r="1.7" fill="#4a8a50" stroke="#0f3315" stroke-width="1.0"/>
<circle cx="419.10" cy="227.60" r="1.7" fill="#9e1736" stroke="#3e0a17" stroke-width="1.0"/>
<circle cx="424.30" cy="229.30" r="1.7" fill="#9e1736" stroke="#3e0a17" stroke-width="1.0"/>
<circle cx="421.20" cy="238.60" r="1.7" fill="#9e1736" stroke="#3e0a17" stroke-width="1.0"/>
<line x1="408.60" y1="190.50" x2="423.80" y2="190.50" stroke="#222" stroke-width="0.85" />
<text x="416.20" y="189.70" font-size="6.0" stroke="none" stroke-width="0" text-anchor="middle">*</text>
<line x1="457.50" y1="181.30" x2="457.50" y2="251.40" stroke="#262626" stroke-width="1.15" />
<line x1="454.00" y1="250.50" x2="501.80" y2="250.50" stroke="#262626" stroke-width="1.15" />
<line x1="454.00" y1="250.50" x2="457.00" y2="250.50" stroke="#262626" stroke-width="0.9" />
<text x="451.10" y="253.00" font-size="6.0" text-anchor="end">0</text>
<line x1="454.00" y1="228.50" x2="457.00" y2="228.50" stroke="#262626" stroke-width="0.9" />
<text x="451.10" y="230.60" font-size="6.0" text-anchor="end">2</text>
<line x1="454.00" y1="206.50" x2="457.00" y2="206.50" stroke="#262626" stroke-width="0.9" />
<text x="451.10" y="208.20" font-size="6.0" text-anchor="end">4</text>
<line x1="454.00" y1="183.50" x2="457.00" y2="183.50" stroke="#262626" stroke-width="0.9" />
<text x="451.10" y="185.80" font-size="6.0" text-anchor="end">6</text>
<line x1="466.50" y1="250.90" x2="466.50" y2="253.40" stroke="#262626" stroke-width="0.9" />
<line x1="479.50" y1="250.90" x2="479.50" y2="253.40" stroke="#262626" stroke-width="0.9" />
<line x1="492.50" y1="250.90" x2="492.50" y2="253.40" stroke="#262626" stroke-width="0.9" />
<text x="469.50" y="258.80" font-size="6.3" stroke="#2a2a2a" stroke-width="0.05" text-anchor="end" transform="rotate(-45 469.50 258.80)">CTR</text>
<text x="482.70" y="258.80" font-size="6.3" stroke="#2a2a2a" stroke-width="0.05" text-anchor="end" transform="rotate(-45 482.70 258.80)">2×4 Gy</text>
<text x="495.60" y="258.80" font-size="6.3" stroke="#2a2a2a" stroke-width="0.05" text-anchor="end" transform="rotate(-45 495.60 258.80)">1×8 Gy</text>
<text x="442.00" y="246.20" font-size="8.6" textLength="65.00" lengthAdjust="spacingAndGlyphs" stroke="#2a2a2a" stroke-width="0.2" transform="rotate(-90 442.00 246.20)"><tspan font-style="italic">prf1</tspan> relative expression</text>
<line x1="461.90" y1="238.50" x2="470.30" y2="238.50" stroke="#111" stroke-width="0.85" />
<line x1="466.50" y1="236.00" x2="466.50" y2="242.00" stroke="#111" stroke-width="0.85" />
<line x1="463.80" y1="236.50" x2="468.40" y2="236.50" stroke="#111" stroke-width="0.85" />
<line x1="463.80" y1="242.50" x2="468.40" y2="242.50" stroke="#111" stroke-width="0.85" />
<line x1="475.10" y1="216.50" x2="483.50" y2="216.50" stroke="#111" stroke-width="0.85" />
<line x1="479.50" y1="212.90" x2="479.50" y2="220.60" stroke="#111" stroke-width="0.85" />
<line x1="477.00" y1="212.50" x2="481.60" y2="212.50" stroke="#111" stroke-width="0.85" />
<line x1="477.00" y1="220.50" x2="481.60" y2="220.50" stroke="#111" stroke-width="0.85" />
<line x1="488.00" y1="234.50" x2="496.40" y2="234.50" stroke="#111" stroke-width="0.85" />
<line x1="492.50" y1="232.40" x2="492.50" y2="236.80" stroke="#111" stroke-width="0.85" />
<line x1="489.90" y1="232.50" x2="494.50" y2="232.50" stroke="#111" stroke-width="0.85" />
<line x1="489.90" y1="236.50" x2="494.50" y2="236.50" stroke="#111" stroke-width="0.85" />
<circle cx="463.00" cy="234.50" r="1.7" fill="#fff" stroke="#161616" stroke-width="1.0"/>
<circle cx="468.60" cy="236.30" r="1.7" fill="#fff" stroke="#161616" stroke-width="1.0"/>
<circle cx="466.10" cy="245.60" r="1.7" fill="#fff" stroke="#161616" stroke-width="1.0"/>
<circle cx="478.70" cy="208.80" r="1.7" fill="#4a8a50" stroke="#0f3315" stroke-width="1.0"/>
<circle cx="481.90" cy="219.90" r="1.7" fill="#4a8a50" stroke="#0f3315" stroke-width="1.0"/>
<circle cx="477.00" cy="222.30" r="1.7" fill="#4a8a50" stroke="#0f3315" stroke-width="1.0"/>
<circle cx="492.70" cy="229.80" r="1.7" fill="#9e1736" stroke="#3e0a17" stroke-width="1.0"/>
<circle cx="495.90" cy="235.60" r="1.7" fill="#9e1736" stroke="#3e0a17" stroke-width="1.0"/>
<circle cx="489.70" cy="238.60" r="1.7" fill="#9e1736" stroke="#3e0a17" stroke-width="1.0"/>
<line x1="478.40" y1="197.50" x2="493.60" y2="197.50" stroke="#222" stroke-width="0.85" />
<text x="486.00" y="196.60" font-size="6.0" stroke="none" stroke-width="0" text-anchor="middle">*</text>
<text x="73.65" y="316.80" font-size="8.3" text-anchor="middle" textLength="73.50" lengthAdjust="spacingAndGlyphs">Non-Irradiated Tumor</text>
<line x1="28.50" y1="328.60" x2="28.50" y2="398.50" stroke="#262626" stroke-width="1.15" />
<line x1="25.00" y1="398.50" x2="71.70" y2="398.50" stroke="#262626" stroke-width="1.15" />
<line x1="25.00" y1="398.50" x2="28.00" y2="398.50" stroke="#262626" stroke-width="0.9" />
<text x="22.10" y="400.10" font-size="6.0" text-anchor="end">0</text>
<line x1="25.00" y1="384.50" x2="28.00" y2="384.50" stroke="#262626" stroke-width="0.9" />
<text x="22.10" y="386.70" font-size="6.0" text-anchor="end">1</text>
<line x1="25.00" y1="371.50" x2="28.00" y2="371.50" stroke="#262626" stroke-width="0.9" />
<text x="22.10" y="373.30" font-size="6.0" text-anchor="end">2</text>
<line x1="25.00" y1="357.50" x2="28.00" y2="357.50" stroke="#262626" stroke-width="0.9" />
<text x="22.10" y="359.90" font-size="6.0" text-anchor="end">3</text>
<line x1="25.00" y1="344.50" x2="28.00" y2="344.50" stroke="#262626" stroke-width="0.9" />
<text x="22.10" y="346.50" font-size="6.0" text-anchor="end">4</text>
<line x1="25.00" y1="331.50" x2="28.00" y2="331.50" stroke="#262626" stroke-width="0.9" />
<text x="22.10" y="333.10" font-size="6.0" text-anchor="end">5</text>
<line x1="36.50" y1="398.00" x2="36.50" y2="400.50" stroke="#262626" stroke-width="0.9" />
<line x1="49.50" y1="398.00" x2="49.50" y2="400.50" stroke="#262626" stroke-width="0.9" />
<line x1="63.50" y1="398.00" x2="63.50" y2="400.50" stroke="#262626" stroke-width="0.9" />
<text x="39.80" y="405.90" font-size="6.3" stroke="#2a2a2a" stroke-width="0.05" text-anchor="end" transform="rotate(-45 39.80 405.90)">CTR</text>
<text x="53.20" y="405.90" font-size="6.3" stroke="#2a2a2a" stroke-width="0.05" text-anchor="end" transform="rotate(-45 53.20 405.90)">2×4 Gy</text>
<text x="66.60" y="405.90" font-size="6.3" stroke="#2a2a2a" stroke-width="0.05" text-anchor="end" transform="rotate(-45 66.60 405.90)">1×8 Gy</text>
<text x="13.10" y="396.40" font-size="8.6" textLength="68.50" lengthAdjust="spacingAndGlyphs" stroke="#2a2a2a" stroke-width="0.2" transform="rotate(-90 13.10 396.40)"><tspan font-style="italic">gzmb</tspan> relative expression</text>
<line x1="32.20" y1="383.50" x2="40.60" y2="383.50" stroke="#111" stroke-width="0.85" />
<line x1="36.50" y1="380.90" x2="36.50" y2="385.90" stroke="#111" stroke-width="0.85" />
<line x1="34.10" y1="380.50" x2="38.70" y2="380.50" stroke="#111" stroke-width="0.85" />
<line x1="34.10" y1="385.50" x2="38.70" y2="385.50" stroke="#111" stroke-width="0.85" />
<line x1="45.60" y1="367.50" x2="54.00" y2="367.50" stroke="#111" stroke-width="0.85" />
<line x1="49.50" y1="360.70" x2="49.50" y2="374.10" stroke="#111" stroke-width="0.85" />
<line x1="47.50" y1="360.50" x2="52.10" y2="360.50" stroke="#111" stroke-width="0.85" />
<line x1="47.50" y1="374.50" x2="52.10" y2="374.50" stroke="#111" stroke-width="0.85" />
<line x1="59.00" y1="386.50" x2="67.40" y2="386.50" stroke="#111" stroke-width="0.85" />
<line x1="63.50" y1="386.00" x2="63.50" y2="387.40" stroke="#111" stroke-width="0.85" />
<line x1="60.90" y1="386.50" x2="65.50" y2="386.50" stroke="#111" stroke-width="0.85" />
<line x1="60.90" y1="387.50" x2="65.50" y2="387.50" stroke="#111" stroke-width="0.85" />
<circle cx="36.60" cy="376.70" r="1.7" fill="#fff" stroke="#161616" stroke-width="1.0"/>
<circle cx="36.60" cy="379.50" r="1.7" fill="#fff" stroke="#161616" stroke-width="1.0"/>
<circle cx="36.40" cy="391.00" r="1.7" fill="#fff" stroke="#161616" stroke-width="1.0"/>
<circle cx="49.80" cy="355.20" r="1.7" fill="#4a8a50" stroke="#0f3315" stroke-width="1.0"/>
<circle cx="50.30" cy="367.80" r="1.7" fill="#4a8a50" stroke="#0f3315" stroke-width="1.0"/>
<circle cx="50.30" cy="381.40" r="1.7" fill="#4a8a50" stroke="#0f3315" stroke-width="1.0"/>
<circle cx="62.90" cy="383.70" r="1.7" fill="#9e1736" stroke="#3e0a17" stroke-width="1.0"/>
<circle cx="60.70" cy="388.40" r="1.7" fill="#9e1736" stroke="#3e0a17" stroke-width="1.0"/>
<circle cx="65.80" cy="388.40" r="1.7" fill="#9e1736" stroke="#3e0a17" stroke-width="1.0"/>
<line x1="50.70" y1="340.50" x2="65.70" y2="340.50" stroke="#222" stroke-width="0.85" />
<text x="58.20" y="337.50" font-size="6.2" stroke="#2a2a2a" stroke-width="0.05" text-anchor="middle">ns</text>
<line x1="96.50" y1="328.60" x2="96.50" y2="398.50" stroke="#262626" stroke-width="1.15" />
<line x1="93.60" y1="398.50" x2="140.50" y2="398.50" stroke="#262626" stroke-width="1.15" />
<line x1="93.60" y1="398.50" x2="96.60" y2="398.50" stroke="#262626" stroke-width="0.9" />
<text x="90.70" y="400.10" font-size="6.0" text-anchor="end">0</text>
<line x1="93.60" y1="384.50" x2="96.60" y2="384.50" stroke="#262626" stroke-width="0.9" />
<text x="90.70" y="386.70" font-size="6.0" text-anchor="end">1</text>
<line x1="93.60" y1="371.50" x2="96.60" y2="371.50" stroke="#262626" stroke-width="0.9" />
<text x="90.70" y="373.30" font-size="6.0" text-anchor="end">2</text>
<line x1="93.60" y1="357.50" x2="96.60" y2="357.50" stroke="#262626" stroke-width="0.9" />
<text x="90.70" y="359.90" font-size="6.0" text-anchor="end">3</text>
<line x1="93.60" y1="344.50" x2="96.60" y2="344.50" stroke="#262626" stroke-width="0.9" />
<text x="90.70" y="346.50" font-size="6.0" text-anchor="end">4</text>
<line x1="93.60" y1="331.50" x2="96.60" y2="331.50" stroke="#262626" stroke-width="0.9" />
<text x="90.70" y="333.10" font-size="6.0" text-anchor="end">5</text>
<line x1="105.50" y1="398.00" x2="105.50" y2="400.50" stroke="#262626" stroke-width="0.9" />
<line x1="119.50" y1="398.00" x2="119.50" y2="400.50" stroke="#262626" stroke-width="0.9" />
<line x1="131.50" y1="398.00" x2="131.50" y2="400.50" stroke="#262626" stroke-width="0.9" />
<text x="109.10" y="405.90" font-size="6.3" stroke="#2a2a2a" stroke-width="0.05" text-anchor="end" transform="rotate(-45 109.10 405.90)">CTR</text>
<text x="122.60" y="405.90" font-size="6.3" stroke="#2a2a2a" stroke-width="0.05" text-anchor="end" transform="rotate(-45 122.60 405.90)">2×4 Gy</text>
<text x="135.10" y="405.90" font-size="6.3" stroke="#2a2a2a" stroke-width="0.05" text-anchor="end" transform="rotate(-45 135.10 405.90)">1×8 Gy</text>
<text x="82.00" y="395.90" font-size="8.6" textLength="66.10" lengthAdjust="spacingAndGlyphs" stroke="#2a2a2a" stroke-width="0.2" transform="rotate(-90 82.00 395.90)"><tspan font-style="italic">prf1</tspan> relative expression</text>
<line x1="101.50" y1="383.50" x2="109.90" y2="383.50" stroke="#111" stroke-width="0.85" />
<line x1="105.50" y1="380.30" x2="105.50" y2="387.60" stroke="#111" stroke-width="0.85" />
<line x1="103.40" y1="380.50" x2="108.00" y2="380.50" stroke="#111" stroke-width="0.85" />
<line x1="103.40" y1="387.50" x2="108.00" y2="387.50" stroke="#111" stroke-width="0.85" />
<line x1="115.00" y1="366.50" x2="123.40" y2="366.50" stroke="#111" stroke-width="0.85" />
<line x1="119.50" y1="356.90" x2="119.50" y2="376.30" stroke="#111" stroke-width="0.85" />
<line x1="116.90" y1="356.50" x2="121.50" y2="356.50" stroke="#111" stroke-width="0.85" />
<line x1="116.90" y1="376.50" x2="121.50" y2="376.50" stroke="#111" stroke-width="0.85" />
<line x1="127.50" y1="385.50" x2="135.90" y2="385.50" stroke="#111" stroke-width="0.85" />
<line x1="131.50" y1="384.30" x2="131.50" y2="385.70" stroke="#111" stroke-width="0.85" />
<line x1="129.40" y1="384.50" x2="134.00" y2="384.50" stroke="#111" stroke-width="0.85" />
<line x1="129.40" y1="385.50" x2="134.00" y2="385.50" stroke="#111" stroke-width="0.85" />
<circle cx="102.70" cy="378.00" r="1.7" fill="#fff" stroke="#161616" stroke-width="1.0"/>
<circle cx="108.10" cy="380.00" r="1.7" fill="#fff" stroke="#161616" stroke-width="1.0"/>
<circle cx="105.70" cy="391.40" r="1.7" fill="#fff" stroke="#161616" stroke-width="1.0"/>
<circle cx="119.20" cy="348.10" r="1.7" fill="#4a8a50" stroke="#0f3315" stroke-width="1.0"/>
<circle cx="119.20" cy="370.00" r="1.7" fill="#4a8a50" stroke="#0f3315" stroke-width="1.0"/>
<circle cx="119.20" cy="381.40" r="1.7" fill="#4a8a50" stroke="#0f3315" stroke-width="1.0"/>
<circle cx="129.60" cy="385.90" r="1.7" fill="#9e1736" stroke="#3e0a17" stroke-width="1.0"/>
<circle cx="132.10" cy="383.90" r="1.7" fill="#9e1736" stroke="#3e0a17" stroke-width="1.0"/>
<circle cx="134.90" cy="383.40" r="1.7" fill="#9e1736" stroke="#3e0a17" stroke-width="1.0"/>
<line x1="119.50" y1="337.50" x2="134.60" y2="337.50" stroke="#222" stroke-width="0.85" />
<text x="127.05" y="335.00" font-size="6.2" stroke="#2a2a2a" stroke-width="0.05" text-anchor="middle">ns</text>
<text x="204.50" y="316.50" font-size="8.3" text-anchor="middle" textLength="56.50" lengthAdjust="spacingAndGlyphs">Irradiated Tumor</text>
<text x="290.90" y="316.30" font-size="8.3" text-anchor="middle" textLength="73.70" lengthAdjust="spacingAndGlyphs">Non-Irradiated Tumor</text>
<line x1="178.50" y1="324.40" x2="178.50" y2="398.70" stroke="#262626" stroke-width="1.15" />
<line x1="175.20" y1="398.50" x2="227.00" y2="398.50" stroke="#262626" stroke-width="1.15" />
<line x1="175.20" y1="398.50" x2="178.20" y2="398.50" stroke="#262626" stroke-width="0.9" />
<text x="172.30" y="400.30" font-size="6.0" text-anchor="end">0</text>
<line x1="175.20" y1="384.50" x2="178.20" y2="384.50" stroke="#262626" stroke-width="0.9" />
<text x="172.30" y="386.12" font-size="6.0" text-anchor="end">10</text>
<line x1="175.20" y1="369.50" x2="178.20" y2="369.50" stroke="#262626" stroke-width="0.9" />
<text x="172.30" y="371.94" font-size="6.0" text-anchor="end">20</text>
<line x1="175.20" y1="355.50" x2="178.20" y2="355.50" stroke="#262626" stroke-width="0.9" />
<text x="172.30" y="357.76" font-size="6.0" text-anchor="end">30</text>
<line x1="175.20" y1="341.50" x2="178.20" y2="341.50" stroke="#262626" stroke-width="0.9" />
<text x="172.30" y="343.58" font-size="6.0" text-anchor="end">40</text>
<line x1="175.20" y1="327.50" x2="178.20" y2="327.50" stroke="#262626" stroke-width="0.9" />
<text x="172.30" y="329.40" font-size="6.0" text-anchor="end">50</text>
<line x1="188.50" y1="398.20" x2="188.50" y2="400.70" stroke="#262626" stroke-width="0.9" />
<line x1="204.50" y1="398.20" x2="204.50" y2="400.70" stroke="#262626" stroke-width="0.9" />
<line x1="220.50" y1="398.20" x2="220.50" y2="400.70" stroke="#262626" stroke-width="0.9" />
<text x="192.30" y="406.10" font-size="6.3" stroke="#2a2a2a" stroke-width="0.05" text-anchor="end" transform="rotate(-45 192.30 406.10)">CTR</text>
<text x="208.30" y="406.10" font-size="6.3" stroke="#2a2a2a" stroke-width="0.05" text-anchor="end" transform="rotate(-45 208.30 406.10)">2×4 Gy</text>
<text x="224.10" y="406.10" font-size="6.3" stroke="#2a2a2a" stroke-width="0.05" text-anchor="end" transform="rotate(-45 224.10 406.10)">1×8 Gy</text>
<text x="160.70" y="380.50" font-size="7.4" textLength="37.30" lengthAdjust="spacingAndGlyphs" stroke="#2a2a2a" stroke-width="0.2" transform="rotate(-90 160.70 380.50)">%CD45<tspan font-size="4.6" dy="-2.6">+</tspan><tspan dy="2.6">/CD3</tspan><tspan font-size="4.6" dy="-2.6">+</tspan></text>
<line x1="184.70" y1="382.50" x2="193.10" y2="382.50" stroke="#111" stroke-width="0.85" />
<line x1="188.50" y1="379.80" x2="188.50" y2="383.80" stroke="#111" stroke-width="0.85" />
<line x1="186.60" y1="379.50" x2="191.20" y2="379.50" stroke="#111" stroke-width="0.85" />
<line x1="186.60" y1="383.50" x2="191.20" y2="383.50" stroke="#111" stroke-width="0.85" />
<line x1="200.70" y1="354.50" x2="209.10" y2="354.50" stroke="#111" stroke-width="0.85" />
<line x1="204.50" y1="352.00" x2="204.50" y2="356.80" stroke="#111" stroke-width="0.85" />
<line x1="202.60" y1="352.50" x2="207.20" y2="352.50" stroke="#111" stroke-width="0.85" />
<line x1="202.60" y1="356.50" x2="207.20" y2="356.50" stroke="#111" stroke-width="0.85" />
<line x1="216.50" y1="375.50" x2="224.90" y2="375.50" stroke="#111" stroke-width="0.85" />
<line x1="220.50" y1="371.00" x2="220.50" y2="379.30" stroke="#111" stroke-width="0.85" />
<line x1="218.40" y1="371.50" x2="223.00" y2="371.50" stroke="#111" stroke-width="0.85" />
<line x1="218.40" y1="379.50" x2="223.00" y2="379.50" stroke="#111" stroke-width="0.85" />
<circle cx="188.90" cy="376.20" r="1.7" fill="#fff" stroke="#161616" stroke-width="1.0"/>
<circle cx="185.30" cy="385.60" r="1.7" fill="#fff" stroke="#161616" stroke-width="1.0"/>
<circle cx="188.90" cy="385.60" r="1.7" fill="#fff" stroke="#161616" stroke-width="1.0"/>
<circle cx="192.50" cy="385.60" r="1.7" fill="#fff" stroke="#161616" stroke-width="1.0"/>
<circle cx="204.90" cy="345.60" r="1.7" fill="#4a8a50" stroke="#0f3315" stroke-width="1.0"/>
<circle cx="204.90" cy="350.70" r="1.7" fill="#4a8a50" stroke="#0f3315" stroke-width="1.0"/>
<circle cx="200.70" cy="354.40" r="1.7" fill="#4a8a50" stroke="#0f3315" stroke-width="1.0"/>
<circle cx="208.50" cy="354.40" r="1.7" fill="#4a8a50" stroke="#0f3315" stroke-width="1.0"/>
<circle cx="204.90" cy="357.50" r="1.7" fill="#4a8a50" stroke="#0f3315" stroke-width="1.0"/>
<circle cx="204.90" cy="368.40" r="1.7" fill="#4a8a50" stroke="#0f3315" stroke-width="1.0"/>
<circle cx="220.70" cy="357.80" r="1.7" fill="#9e1736" stroke="#3e0a17" stroke-width="1.0"/>
<circle cx="216.70" cy="366.50" r="1.7" fill="#9e1736" stroke="#3e0a17" stroke-width="1.0"/>
<circle cx="220.70" cy="370.20" r="1.7" fill="#9e1736" stroke="#3e0a17" stroke-width="1.0"/>
<circle cx="219.80" cy="382.00" r="1.7" fill="#9e1736" stroke="#3e0a17" stroke-width="1.0"/>
<circle cx="216.70" cy="385.60" r="1.7" fill="#9e1736" stroke="#3e0a17" stroke-width="1.0"/>
<circle cx="223.50" cy="385.60" r="1.7" fill="#9e1736" stroke="#3e0a17" stroke-width="1.0"/>
<line x1="204.90" y1="331.50" x2="222.00" y2="331.50" stroke="#222" stroke-width="0.85" />
<text x="212.50" y="331.10" font-size="6.0" stroke="none" stroke-width="0" text-anchor="middle">*</text>
<text x="214.40" y="331.10" font-size="6.0" stroke="none" stroke-width="0" text-anchor="middle">*</text>
<line x1="264.50" y1="324.40" x2="264.50" y2="398.70" stroke="#262626" stroke-width="1.15" />
<line x1="261.60" y1="398.50" x2="313.00" y2="398.50" stroke="#262626" stroke-width="1.15" />
<line x1="261.60" y1="398.50" x2="264.60" y2="398.50" stroke="#262626" stroke-width="0.9" />
<text x="258.70" y="400.30" font-size="6.0" text-anchor="end">0</text>
<line x1="261.60" y1="384.50" x2="264.60" y2="384.50" stroke="#262626" stroke-width="0.9" />
<text x="258.70" y="386.12" font-size="6.0" text-anchor="end">10</text>
<line x1="261.60" y1="369.50" x2="264.60" y2="369.50" stroke="#262626" stroke-width="0.9" />
<text x="258.70" y="371.94" font-size="6.0" text-anchor="end">20</text>
<line x1="261.60" y1="355.50" x2="264.60" y2="355.50" stroke="#262626" stroke-width="0.9" />
<text x="258.70" y="357.76" font-size="6.0" text-anchor="end">30</text>
<line x1="261.60" y1="341.50" x2="264.60" y2="341.50" stroke="#262626" stroke-width="0.9" />
<text x="258.70" y="343.58" font-size="6.0" text-anchor="end">40</text>
<line x1="261.60" y1="327.50" x2="264.60" y2="327.50" stroke="#262626" stroke-width="0.9" />
<text x="258.70" y="329.40" font-size="6.0" text-anchor="end">50</text>
<line x1="274.50" y1="398.20" x2="274.50" y2="400.70" stroke="#262626" stroke-width="0.9" />
<line x1="290.50" y1="398.20" x2="290.50" y2="400.70" stroke="#262626" stroke-width="0.9" />
<line x1="306.50" y1="398.20" x2="306.50" y2="400.70" stroke="#262626" stroke-width="0.9" />
<text x="278.30" y="406.10" font-size="6.3" stroke="#2a2a2a" stroke-width="0.05" text-anchor="end" transform="rotate(-45 278.30 406.10)">CTR</text>
<text x="294.30" y="406.10" font-size="6.3" stroke="#2a2a2a" stroke-width="0.05" text-anchor="end" transform="rotate(-45 294.30 406.10)">2×4 Gy</text>
<text x="309.60" y="406.10" font-size="6.3" stroke="#2a2a2a" stroke-width="0.05" text-anchor="end" transform="rotate(-45 309.60 406.10)">1×8 Gy</text>
<text x="246.60" y="379.70" font-size="7.4" textLength="37.30" lengthAdjust="spacingAndGlyphs" stroke="#2a2a2a" stroke-width="0.2" transform="rotate(-90 246.60 379.70)">%CD45<tspan font-size="4.6" dy="-2.6">+</tspan><tspan dy="2.6">/CD3</tspan><tspan font-size="4.6" dy="-2.6">+</tspan></text>
<line x1="270.70" y1="382.50" x2="279.10" y2="382.50" stroke="#111" stroke-width="0.85" />
<line x1="274.50" y1="379.80" x2="274.50" y2="383.80" stroke="#111" stroke-width="0.85" />
<line x1="272.60" y1="379.50" x2="277.20" y2="379.50" stroke="#111" stroke-width="0.85" />
<line x1="272.60" y1="383.50" x2="277.20" y2="383.50" stroke="#111" stroke-width="0.85" />
<line x1="286.70" y1="356.50" x2="295.10" y2="356.50" stroke="#111" stroke-width="0.85" />
<line x1="290.50" y1="353.30" x2="290.50" y2="360.20" stroke="#111" stroke-width="0.85" />
<line x1="288.60" y1="353.50" x2="293.20" y2="353.50" stroke="#111" stroke-width="0.85" />
<line x1="288.60" y1="360.50" x2="293.20" y2="360.50" stroke="#111" stroke-width="0.85" />
<line x1="302.00" y1="379.50" x2="310.40" y2="379.50" stroke="#111" stroke-width="0.85" />
<line x1="306.50" y1="376.50" x2="306.50" y2="382.40" stroke="#111" stroke-width="0.85" />
<line x1="303.90" y1="376.50" x2="308.50" y2="376.50" stroke="#111" stroke-width="0.85" />
<line x1="303.90" y1="382.50" x2="308.50" y2="382.50" stroke="#111" stroke-width="0.85" />
<circle cx="274.90" cy="376.20" r="1.7" fill="#fff" stroke="#161616" stroke-width="1.0"/>
<circle cx="271.30" cy="385.60" r="1.7" fill="#fff" stroke="#161616" stroke-width="1.0"/>
<circle cx="274.90" cy="385.60" r="1.7" fill="#fff" stroke="#161616" stroke-width="1.0"/>
<circle cx="278.50" cy="385.60" r="1.7" fill="#fff" stroke="#161616" stroke-width="1.0"/>
<circle cx="286.70" cy="347.50" r="1.7" fill="#4a8a50" stroke="#0f3315" stroke-width="1.0"/>
<circle cx="294.50" cy="346.50" r="1.7" fill="#4a8a50" stroke="#0f3315" stroke-width="1.0"/>
<circle cx="294.00" cy="350.70" r="1.7" fill="#4a8a50" stroke="#0f3315" stroke-width="1.0"/>
<circle cx="286.70" cy="361.10" r="1.7" fill="#4a8a50" stroke="#0f3315" stroke-width="1.0"/>
<circle cx="294.50" cy="362.40" r="1.7" fill="#4a8a50" stroke="#0f3315" stroke-width="1.0"/>
<circle cx="290.90" cy="369.60" r="1.7" fill="#4a8a50" stroke="#0f3315" stroke-width="1.0"/>
<circle cx="306.20" cy="371.50" r="1.7" fill="#9e1736" stroke="#3e0a17" stroke-width="1.0"/>
<circle cx="310.40" cy="377.00" r="1.7" fill="#9e1736" stroke="#3e0a17" stroke-width="1.0"/>
<circle cx="302.50" cy="385.60" r="1.7" fill="#9e1736" stroke="#3e0a17" stroke-width="1.0"/>
<circle cx="306.20" cy="383.50" r="1.7" fill="#9e1736" stroke="#3e0a17" stroke-width="1.0"/>
<line x1="290.90" y1="335.50" x2="307.30" y2="335.50" stroke="#222" stroke-width="0.85" />
<text x="298.15" y="335.20" font-size="6.0" stroke="none" stroke-width="0" text-anchor="middle">*</text>
<text x="300.05" y="335.20" font-size="6.0" stroke="none" stroke-width="0" text-anchor="middle">*</text>
<text x="389.60" y="316.50" font-size="8.3" text-anchor="middle" textLength="56.90" lengthAdjust="spacingAndGlyphs">Irradiated Tumor</text>
<text x="476.00" y="316.30" font-size="8.3" text-anchor="middle" textLength="72.90" lengthAdjust="spacingAndGlyphs">Non-Irradiated Tumor</text>
<line x1="364.50" y1="325.50" x2="364.50" y2="398.50" stroke="#262626" stroke-width="1.15" />
<line x1="361.60" y1="398.50" x2="414.80" y2="398.50" stroke="#262626" stroke-width="1.15" />
<line x1="361.60" y1="398.50" x2="364.60" y2="398.50" stroke="#262626" stroke-width="0.9" />
<text x="358.70" y="400.10" font-size="6.0" text-anchor="end">0</text>
<line x1="361.60" y1="380.50" x2="364.60" y2="380.50" stroke="#262626" stroke-width="0.9" />
<text x="358.70" y="382.55" font-size="6.0" text-anchor="end">5</text>
<line x1="361.60" y1="362.50" x2="364.60" y2="362.50" stroke="#262626" stroke-width="0.9" />
<text x="358.70" y="365.00" font-size="6.0" text-anchor="end">10</text>
<line x1="361.60" y1="345.50" x2="364.60" y2="345.50" stroke="#262626" stroke-width="0.9" />
<text x="358.70" y="347.45" font-size="6.0" text-anchor="end">15</text>
<line x1="361.60" y1="327.50" x2="364.60" y2="327.50" stroke="#262626" stroke-width="0.9" />
<text x="358.70" y="329.90" font-size="6.0" text-anchor="end">20</text>
<line x1="375.50" y1="398.00" x2="375.50" y2="400.50" stroke="#262626" stroke-width="0.9" />
<line x1="391.50" y1="398.00" x2="391.50" y2="400.50" stroke="#262626" stroke-width="0.9" />
<line x1="408.50" y1="398.00" x2="408.50" y2="400.50" stroke="#262626" stroke-width="0.9" />
<text x="378.70" y="405.90" font-size="6.3" stroke="#2a2a2a" stroke-width="0.05" text-anchor="end" transform="rotate(-45 378.70 405.90)">CTR</text>
<text x="395.20" y="405.90" font-size="6.3" stroke="#2a2a2a" stroke-width="0.05" text-anchor="end" transform="rotate(-45 395.20 405.90)">2×4 Gy</text>
<text x="412.30" y="405.90" font-size="6.3" stroke="#2a2a2a" stroke-width="0.05" text-anchor="end" transform="rotate(-45 412.30 405.90)">1×8 Gy</text>
<text x="346.60" y="389.00" font-size="7.4" textLength="53.10" lengthAdjust="spacingAndGlyphs" stroke="#2a2a2a" stroke-width="0.2" transform="rotate(-90 346.60 389.00)">%CD45<tspan font-size="4.6" dy="-2.6">+</tspan><tspan dy="2.6">/CD3</tspan><tspan font-size="4.6" dy="-2.6">+</tspan><tspan dy="2.6">/CD8</tspan><tspan font-size="4.6" dy="-2.6">+</tspan></text>
<line x1="371.10" y1="383.50" x2="379.50" y2="383.50" stroke="#111" stroke-width="0.85" />
<line x1="375.50" y1="382.00" x2="375.50" y2="385.60" stroke="#111" stroke-width="0.85" />
<line x1="373.00" y1="382.50" x2="377.60" y2="382.50" stroke="#111" stroke-width="0.85" />
<line x1="373.00" y1="385.50" x2="377.60" y2="385.50" stroke="#111" stroke-width="0.85" />
<line x1="387.60" y1="345.50" x2="396.00" y2="345.50" stroke="#111" stroke-width="0.85" />
<line x1="391.50" y1="341.60" x2="391.50" y2="351.10" stroke="#111" stroke-width="0.85" />
<line x1="389.50" y1="341.50" x2="394.10" y2="341.50" stroke="#111" stroke-width="0.85" />
<line x1="389.50" y1="351.50" x2="394.10" y2="351.50" stroke="#111" stroke-width="0.85" />
<line x1="404.70" y1="377.50" x2="413.10" y2="377.50" stroke="#111" stroke-width="0.85" />
<line x1="408.50" y1="373.50" x2="408.50" y2="381.10" stroke="#111" stroke-width="0.85" />
<line x1="406.60" y1="373.50" x2="411.20" y2="373.50" stroke="#111" stroke-width="0.85" />
<line x1="406.60" y1="381.50" x2="411.20" y2="381.50" stroke="#111" stroke-width="0.85" />
<circle cx="372.20" cy="380.50" r="1.7" fill="#fff" stroke="#161616" stroke-width="1.0"/>
<circle cx="379.50" cy="380.50" r="1.7" fill="#fff" stroke="#161616" stroke-width="1.0"/>
<circle cx="372.20" cy="385.30" r="1.7" fill="#fff" stroke="#161616" stroke-width="1.0"/>
<circle cx="379.50" cy="385.60" r="1.7" fill="#fff" stroke="#161616" stroke-width="1.0"/>
<circle cx="372.20" cy="389.60" r="1.7" fill="#fff" stroke="#161616" stroke-width="1.0"/>
<circle cx="391.80" cy="332.90" r="1.7" fill="#4a8a50" stroke="#0f3315" stroke-width="1.0"/>
<circle cx="391.80" cy="341.10" r="1.7" fill="#4a8a50" stroke="#0f3315" stroke-width="1.0"/>
<circle cx="391.80" cy="347.80" r="1.7" fill="#4a8a50" stroke="#0f3315" stroke-width="1.0"/>
<circle cx="391.80" cy="361.60" r="1.7" fill="#4a8a50" stroke="#0f3315" stroke-width="1.0"/>
<circle cx="408.90" cy="365.30" r="1.7" fill="#9e1736" stroke="#3e0a17" stroke-width="1.0"/>
<circle cx="405.50" cy="381.60" r="1.7" fill="#9e1736" stroke="#3e0a17" stroke-width="1.0"/>
<circle cx="408.90" cy="381.10" r="1.7" fill="#9e1736" stroke="#3e0a17" stroke-width="1.0"/>
<circle cx="412.20" cy="380.50" r="1.7" fill="#9e1736" stroke="#3e0a17" stroke-width="1.0"/>
<line x1="394.90" y1="329.50" x2="410.90" y2="329.50" stroke="#222" stroke-width="0.85" />
<text x="401.95" y="329.20" font-size="6.0" stroke="none" stroke-width="0" text-anchor="middle">*</text>
<text x="403.85" y="329.20" font-size="6.0" stroke="none" stroke-width="0" text-anchor="middle">*</text>
<line x1="450.50" y1="325.50" x2="450.50" y2="398.50" stroke="#262626" stroke-width="1.15" />
<line x1="447.70" y1="398.50" x2="500.00" y2="398.50" stroke="#262626" stroke-width="1.15" />
<line x1="447.70" y1="398.50" x2="450.70" y2="398.50" stroke="#262626" stroke-width="0.9" />
<text x="444.80" y="400.10" font-size="6.0" text-anchor="end">0</text>
<line x1="447.70" y1="380.50" x2="450.70" y2="380.50" stroke="#262626" stroke-width="0.9" />
<text x="444.80" y="382.55" font-size="6.0" text-anchor="end">5</text>
<line x1="447.70" y1="362.50" x2="450.70" y2="362.50" stroke="#262626" stroke-width="0.9" />
<text x="444.80" y="365.00" font-size="6.0" text-anchor="end">10</text>
<line x1="447.70" y1="345.50" x2="450.70" y2="345.50" stroke="#262626" stroke-width="0.9" />
<text x="444.80" y="347.45" font-size="6.0" text-anchor="end">15</text>
<line x1="447.70" y1="327.50" x2="450.70" y2="327.50" stroke="#262626" stroke-width="0.9" />
<text x="444.80" y="329.90" font-size="6.0" text-anchor="end">20</text>
<line x1="461.50" y1="398.00" x2="461.50" y2="400.50" stroke="#262626" stroke-width="0.9" />
<line x1="478.50" y1="398.00" x2="478.50" y2="400.50" stroke="#262626" stroke-width="0.9" />
<line x1="495.50" y1="398.00" x2="495.50" y2="400.50" stroke="#262626" stroke-width="0.9" />
<text x="464.70" y="405.90" font-size="6.3" stroke="#2a2a2a" stroke-width="0.05" text-anchor="end" transform="rotate(-45 464.70 405.90)">CTR</text>
<text x="481.60" y="405.90" font-size="6.3" stroke="#2a2a2a" stroke-width="0.05" text-anchor="end" transform="rotate(-45 481.60 405.90)">2×4 Gy</text>
<text x="498.50" y="405.90" font-size="6.3" stroke="#2a2a2a" stroke-width="0.05" text-anchor="end" transform="rotate(-45 498.50 405.90)">1×8 Gy</text>
<text x="432.70" y="386.20" font-size="7.4" textLength="53.10" lengthAdjust="spacingAndGlyphs" stroke="#2a2a2a" stroke-width="0.2" transform="rotate(-90 432.70 386.20)">%CD45<tspan font-size="4.6" dy="-2.6">+</tspan><tspan dy="2.6">/CD3</tspan><tspan font-size="4.6" dy="-2.6">+</tspan><tspan dy="2.6">/CD8</tspan><tspan font-size="4.6" dy="-2.6">+</tspan></text>
<line x1="457.10" y1="383.50" x2="465.50" y2="383.50" stroke="#111" stroke-width="0.85" />
<line x1="461.50" y1="382.00" x2="461.50" y2="385.60" stroke="#111" stroke-width="0.85" />
<line x1="459.00" y1="382.50" x2="463.60" y2="382.50" stroke="#111" stroke-width="0.85" />
<line x1="459.00" y1="385.50" x2="463.60" y2="385.50" stroke="#111" stroke-width="0.85" />
<line x1="474.00" y1="374.50" x2="482.40" y2="374.50" stroke="#111" stroke-width="0.85" />
<line x1="478.50" y1="372.50" x2="478.50" y2="377.00" stroke="#111" stroke-width="0.85" />
<line x1="475.90" y1="372.50" x2="480.50" y2="372.50" stroke="#111" stroke-width="0.85" />
<line x1="475.90" y1="377.50" x2="480.50" y2="377.50" stroke="#111" stroke-width="0.85" />
<line x1="490.90" y1="387.50" x2="499.30" y2="387.50" stroke="#111" stroke-width="0.85" />
<line x1="495.50" y1="385.50" x2="495.50" y2="388.70" stroke="#111" stroke-width="0.85" />
<line x1="492.80" y1="385.50" x2="497.40" y2="385.50" stroke="#111" stroke-width="0.85" />
<line x1="492.80" y1="388.50" x2="497.40" y2="388.50" stroke="#111" stroke-width="0.85" />
<circle cx="458.20" cy="380.50" r="1.7" fill="#fff" stroke="#161616" stroke-width="1.0"/>
<circle cx="466.00" cy="380.50" r="1.7" fill="#fff" stroke="#161616" stroke-width="1.0"/>
<circle cx="458.20" cy="385.30" r="1.7" fill="#fff" stroke="#161616" stroke-width="1.0"/>
<circle cx="466.00" cy="385.60" r="1.7" fill="#fff" stroke="#161616" stroke-width="1.0"/>
<circle cx="458.20" cy="389.30" r="1.7" fill="#fff" stroke="#161616" stroke-width="1.0"/>
<circle cx="478.20" cy="367.50" r="1.7" fill="#4a8a50" stroke="#0f3315" stroke-width="1.0"/>
<circle cx="474.50" cy="374.20" r="1.7" fill="#4a8a50" stroke="#0f3315" stroke-width="1.0"/>
<circle cx="478.70" cy="374.70" r="1.7" fill="#4a8a50" stroke="#0f3315" stroke-width="1.0"/>
<circle cx="482.40" cy="375.60" r="1.7" fill="#4a8a50" stroke="#0f3315" stroke-width="1.0"/>
<circle cx="478.20" cy="376.50" r="1.7" fill="#4a8a50" stroke="#0f3315" stroke-width="1.0"/>
<circle cx="478.20" cy="382.40" r="1.7" fill="#4a8a50" stroke="#0f3315" stroke-width="1.0"/>
<circle cx="495.10" cy="383.50" r="1.7" fill="#9e1736" stroke="#3e0a17" stroke-width="1.0"/>
<circle cx="491.50" cy="386.50" r="1.7" fill="#9e1736" stroke="#3e0a17" stroke-width="1.0"/>
<circle cx="498.70" cy="387.80" r="1.7" fill="#9e1736" stroke="#3e0a17" stroke-width="1.0"/>
<circle cx="491.50" cy="390.70" r="1.7" fill="#9e1736" stroke="#3e0a17" stroke-width="1.0"/>
<line x1="480.00" y1="352.50" x2="496.40" y2="352.50" stroke="#222" stroke-width="0.85" />
<text x="487.25" y="352.10" font-size="6.0" stroke="none" stroke-width="0" text-anchor="middle">*</text>
<text x="489.15" y="352.10" font-size="6.0" stroke="none" stroke-width="0" text-anchor="middle">*</text>
<rect x="0.5" y="0.5" width="519" height="428" fill="none" stroke="#505050" stroke-width="1"/>
</svg>
</div>
</body></html>
